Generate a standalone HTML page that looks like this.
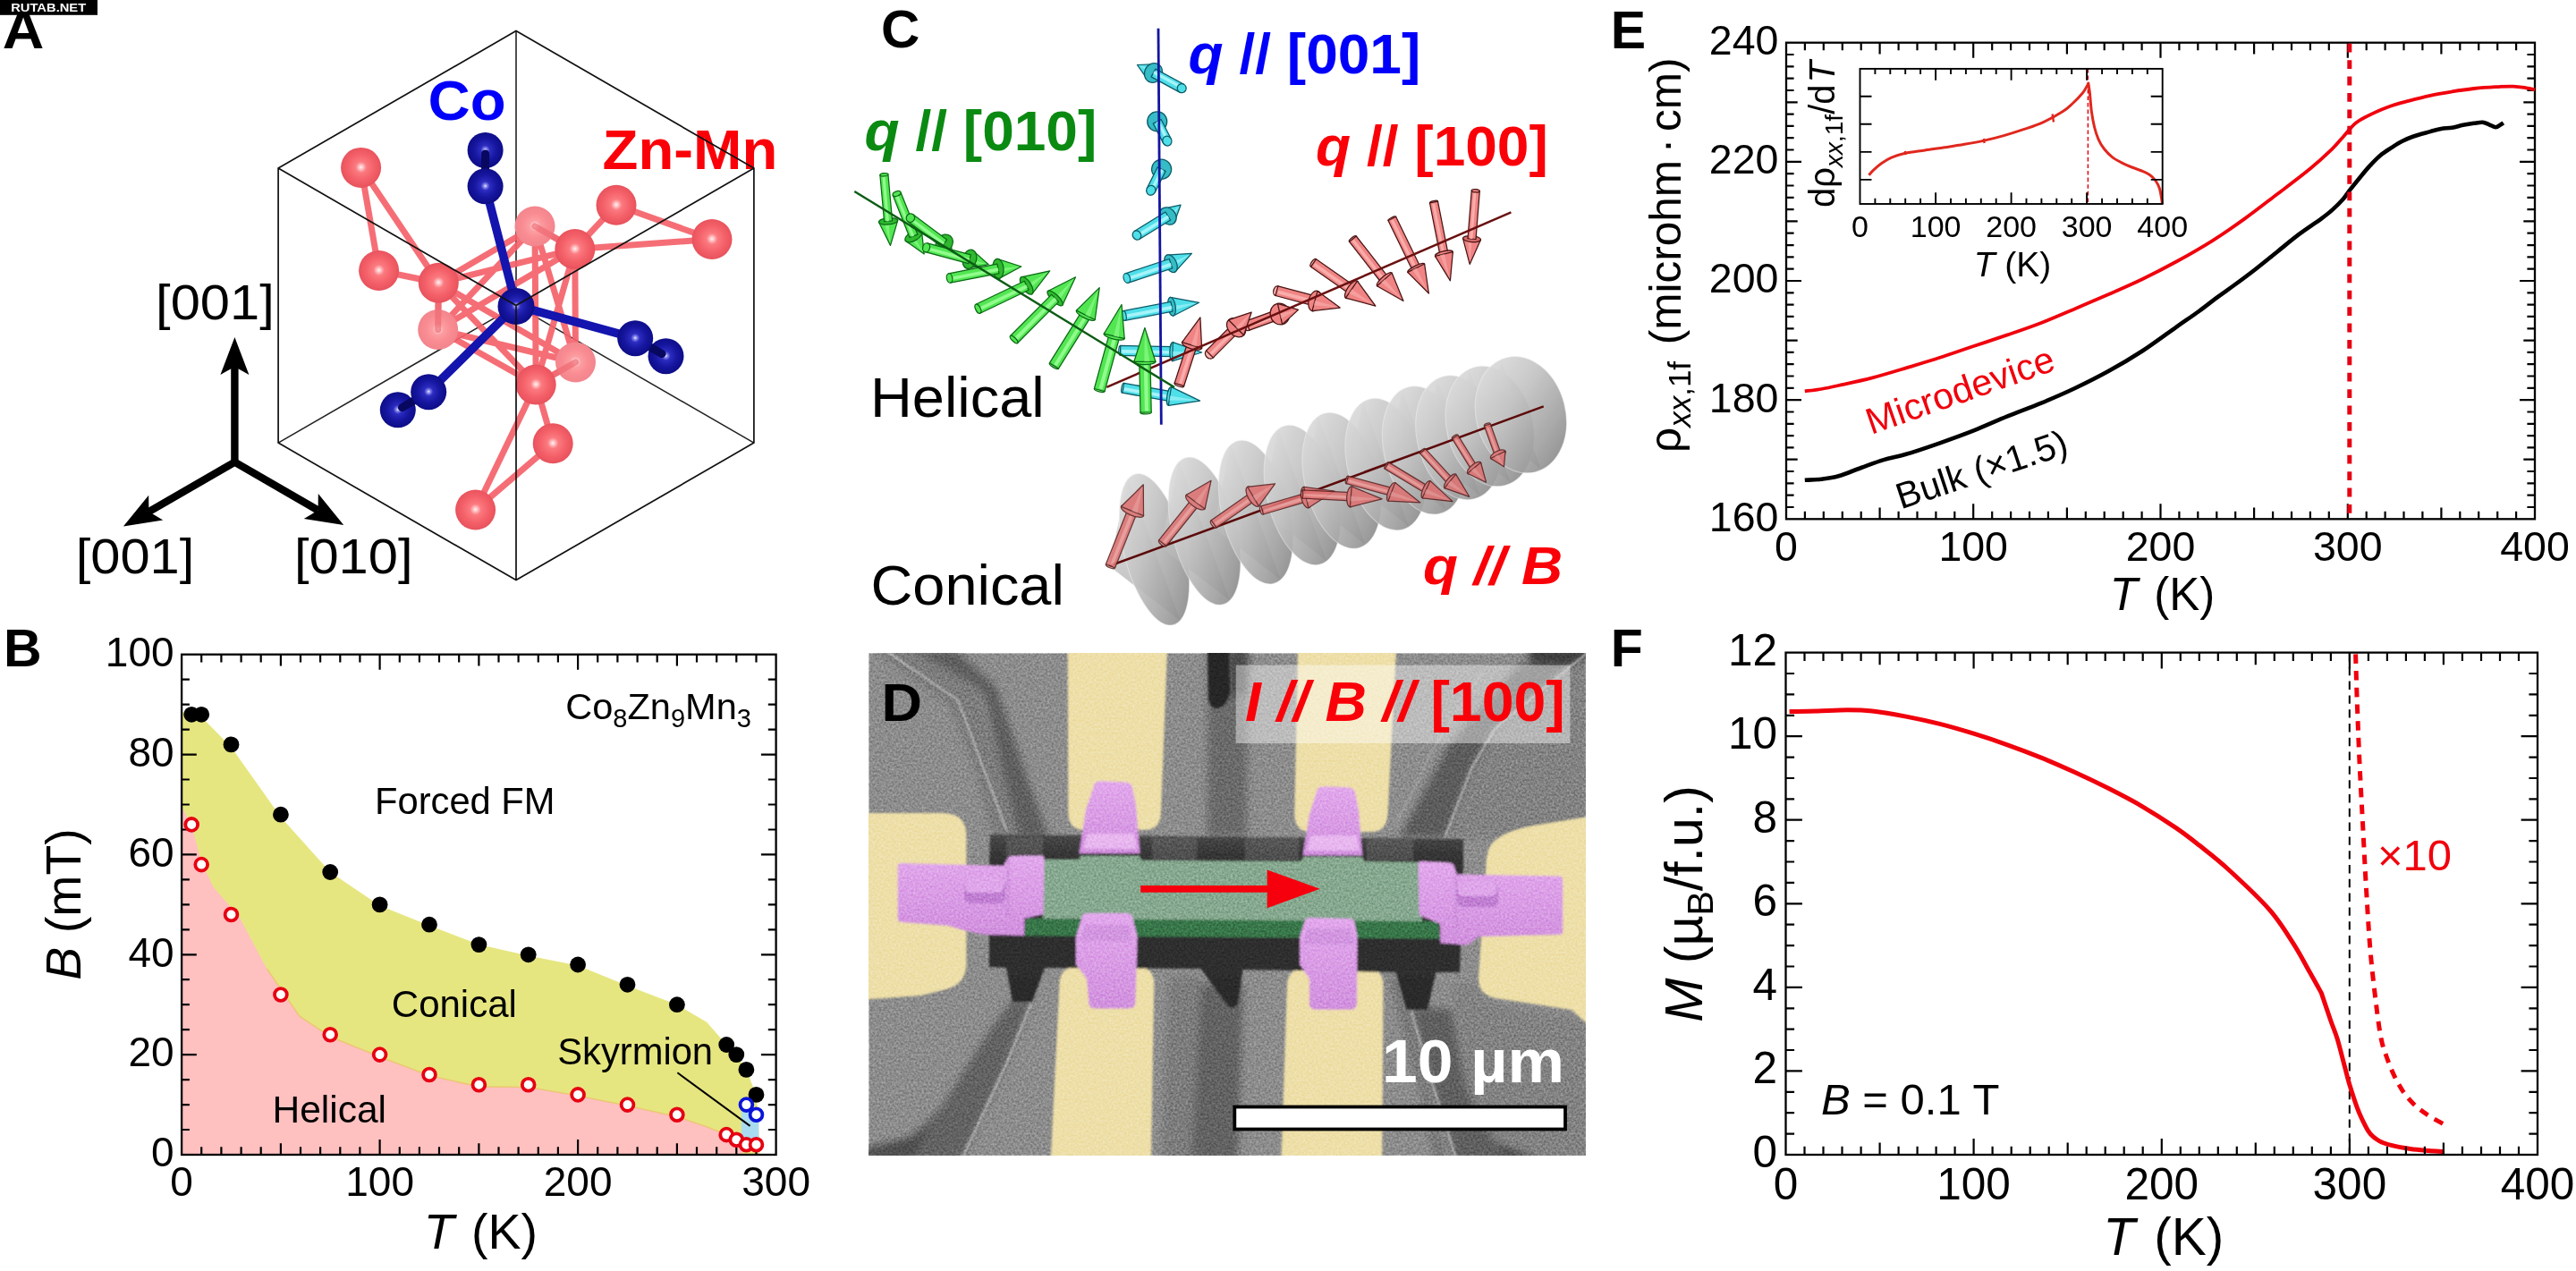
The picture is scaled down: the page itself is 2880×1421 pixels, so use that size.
<!DOCTYPE html>
<html lang="en"><head><meta charset="utf-8"><title>Figure</title>
<style>
html,body{margin:0;padding:0;background:#fff;}
body{width:2880px;height:1421px;overflow:hidden;}
svg{display:block;font-family:"Liberation Sans", sans-serif;will-change:transform;}
</style></head><body>
<svg width="2880" height="1421" viewBox="0 0 2880 1421">
<rect width="2880" height="1421" fill="#fff"/>
<g id="panelA">
<defs>
<radialGradient id="gRed" cx="0.5" cy="0.49" r="0.52">
<stop offset="0" stop-color="#fff4f4"/><stop offset="0.1" stop-color="#ffc4c6"/><stop offset="0.26" stop-color="#fb7a80"/><stop offset="0.6" stop-color="#f5626a"/><stop offset="0.92" stop-color="#ea545e"/><stop offset="1" stop-color="#e2525c"/>
</radialGradient>
<radialGradient id="gRedDim" cx="0.5" cy="0.49" r="0.52">
<stop offset="0" stop-color="#fff6f6"/><stop offset="0.1" stop-color="#ffd2d4"/><stop offset="0.26" stop-color="#fc9ea2"/><stop offset="0.6" stop-color="#f98c92"/><stop offset="1" stop-color="#f2848c"/>
</radialGradient>
<radialGradient id="gBlue" cx="0.5" cy="0.49" r="0.52">
<stop offset="0" stop-color="#f0f0ff"/><stop offset="0.09" stop-color="#8a8af0"/><stop offset="0.24" stop-color="#2c2cc0"/><stop offset="0.6" stop-color="#1616a0"/><stop offset="1" stop-color="#0c0c86"/>
</radialGradient>
</defs>
<path d="M577 341.6L577 34.6M577 341.6L311.1 495.1M577 341.6L842.9 495.1" stroke="#222" stroke-width="1.6" fill="none"/>
<path d="M403.6 187.4L423.6 302.5M403.6 187.4L490.3 316.2M423.6 302.5L490.3 316.2M490.3 316.2L489.7 368.5M598 253L642.8 278.6M642.8 278.6L689 229.3M642.8 278.6L796 267.5M689 229.3L796 267.5M599.2 430L643.5 405M599.2 430L618.2 495.8M599.2 430L531.6 570M618.2 495.8L531.6 570M490.3 316.2L642.8 278.6M490.3 316.2L598 253M490.3 316.2L599.2 430M490.3 316.2L643.5 405M489.7 368.5L599.2 430M489.7 368.5L598 253M489.7 368.5L642.8 278.6M598 253L599.2 430M598 253L643.5 405M642.8 278.6L599.2 430M642.8 278.6L643.5 405M489.7 368.5L643.5 405" stroke="#f4626a" stroke-width="7" fill="none" stroke-linecap="round" opacity="0.92"/>
<circle cx="489.7" cy="368.5" r="22.5" fill="url(#gRedDim)"/>
<circle cx="598" cy="253" r="22.5" fill="url(#gRedDim)"/>
<circle cx="643.5" cy="405" r="22.5" fill="url(#gRedDim)"/>
<path d="M490.3 316.2L489.7 368.5M598 253L642.8 278.6M599.2 430L643.5 405" stroke="#ee6a72" stroke-width="7" fill="none" stroke-linecap="round" opacity="0.7"/>
<circle cx="403.6" cy="187.4" r="22.5" fill="url(#gRed)"/>
<circle cx="423.6" cy="302.5" r="22.5" fill="url(#gRed)"/>
<circle cx="490.3" cy="316.2" r="22.5" fill="url(#gRed)"/>
<circle cx="642.8" cy="278.6" r="22.5" fill="url(#gRed)"/>
<circle cx="689" cy="229.3" r="22.5" fill="url(#gRed)"/>
<circle cx="796" cy="267.5" r="22.5" fill="url(#gRed)"/>
<circle cx="599.2" cy="430" r="22.5" fill="url(#gRed)"/>
<circle cx="618.2" cy="495.8" r="22.5" fill="url(#gRed)"/>
<circle cx="531.6" cy="570" r="22.5" fill="url(#gRed)"/>
<circle cx="542.6" cy="168" r="20" fill="url(#gBlue)"/>
<circle cx="744.5" cy="398.2" r="20" fill="url(#gBlue)"/>
<circle cx="444.8" cy="458.3" r="20" fill="url(#gBlue)"/>
<path d="M542.6 172L542.6 200M740 395.6L716 381.6M449.5 455.6L473 442" stroke="#080860" stroke-width="9" stroke-linecap="round" fill="none"/>
<path d="M577 341.6L542.6 208.3M577 341.6L710.2 378.2M577 341.6L479.2 438.2" stroke="#1414ae" stroke-width="9.5" fill="none"/>
<circle cx="542.6" cy="208.3" r="20" fill="url(#gBlue)"/>
<circle cx="710.2" cy="378.2" r="20" fill="url(#gBlue)"/>
<circle cx="479.2" cy="438.2" r="20" fill="url(#gBlue)"/>
<circle cx="577" cy="342.4" r="20.5" fill="url(#gBlue)"/>
<text transform="translate(478.5 133.5) scale(1.045 1)" font-size="62.5" text-anchor="start" font-weight="bold" font-style="normal" fill="#0000fa" >Co</text>
<text transform="translate(673.5 189) scale(1.045 1)" font-size="62.5" text-anchor="start" font-weight="bold" font-style="normal" fill="#fa0008" >Zn-Mn</text>
<path d="M577 34.6L311.1 188.1L311.1 495.1L577 648.6L842.9 495.1L842.9 188.1ZM577 341.6L311.1 188.1M577 341.6L577 648.6M577 341.6L842.9 188.1" stroke="#111" stroke-width="1.7" fill="none" stroke-linejoin="miter"/>
<path d="M262.4 518.7L262.4 410" stroke="#000" stroke-width="8.4" fill="none"/><path d="M262.4 377L278.4 419L262.4 410L246.4 419Z" fill="#000"/>
<path d="M264.1 515.7L166.4 572.1" stroke="#000" stroke-width="8.4" fill="none"/><path d="M137.9 588.6L166.2 553.7L166.4 572.1L182.2 581.5Z" fill="#000"/>
<path d="M260.7 515.7L355.6 570.5" stroke="#000" stroke-width="8.4" fill="none"/><path d="M384.2 587L339.8 579.9L355.6 570.5L355.8 552.1Z" fill="#000"/>
<text transform="translate(240.4 356.5) scale(1.065 1)" font-size="56" text-anchor="middle" font-weight="normal" font-style="normal" fill="#000" >[001]</text>
<text transform="translate(151 640.5) scale(1.065 1)" font-size="56" text-anchor="middle" font-weight="normal" font-style="normal" fill="#000" >[001]</text>
<text transform="translate(395.2 640.5) scale(1.065 1)" font-size="56" text-anchor="middle" font-weight="normal" font-style="normal" fill="#000" >[010]</text>
<text transform="translate(2.8 54) scale(1.075 1)" font-size="60" text-anchor="start" font-weight="bold" font-style="normal" fill="#000" >A</text>
<rect x="0" y="0" width="109" height="16.8" fill="#000"/>
<text x="12.2" y="13" font-size="13.2" font-weight="bold" fill="#fff" textLength="84" lengthAdjust="spacingAndGlyphs">RUTAB.NET</text>
</g>
<g id="panelB">
<path d="M203.1 796L214.2 797.7L225.2 801.6L258.5 835.2L313.9 913.5L369.2 975L424.6 1012.5L480 1034.8L535.4 1056.1L590.7 1068.4L646.1 1079.6L701.5 1102L756.9 1123.2L790.1 1142.8L812.2 1168L823.3 1179.1L834.4 1195.9L843.2 1218.3L847.7 1240.7L848.8 1279.8L848.8 1291L203.1 1291Z" fill="#e6e680"/>
<path d="M203.1 902.3L214.2 921.9L225.2 963.8L238.5 991.8L267.3 1024.8L298.3 1082.9L334.9 1136.1L369.2 1159L424.6 1181.4L480 1202.6L535.4 1214.9L590.7 1215.5L646.1 1225L701.5 1236.2L756.9 1248.5L790.1 1259.7L812.2 1268.6L829.9 1276.5L829.9 1291L203.1 1291Z" fill="#ffc0c0"/>
<path d="M298.3 1082.9L334.9 1136.1L369.2 1159L424.6 1181.4L480 1202.6L535.4 1214.9L590.7 1215.5L646.1 1225L701.5 1236.2L756.9 1248.5L790.1 1259.7L812.2 1268.6L829.9 1276.5" fill="none" stroke="#eac46a" stroke-width="1.6" opacity="0.8"/>
<rect x="828.8" y="1240.7" width="19.5" height="33.6" rx="3" fill="#a9dcf0"/>
<rect x="203.1" y="731.7" width="664.5" height="559.3" fill="none" stroke="#000" stroke-width="2.3"/>
<path d="M225.2 1291v-8.8M225.2 731.7v8.8M247.4 1291v-8.8M247.4 731.7v8.8M269.6 1291v-8.8M269.6 731.7v8.8M291.7 1291v-8.8M291.7 731.7v8.8M336 1291v-8.8M336 731.7v8.8M358.1 1291v-8.8M358.1 731.7v8.8M380.3 1291v-8.8M380.3 731.7v8.8M402.4 1291v-8.8M402.4 731.7v8.8M446.8 1291v-8.8M446.8 731.7v8.8M468.9 1291v-8.8M468.9 731.7v8.8M491 1291v-8.8M491 731.7v8.8M513.2 1291v-8.8M513.2 731.7v8.8M557.5 1291v-8.8M557.5 731.7v8.8M579.6 1291v-8.8M579.6 731.7v8.8M601.8 1291v-8.8M601.8 731.7v8.8M623.9 1291v-8.8M623.9 731.7v8.8M668.2 1291v-8.8M668.2 731.7v8.8M690.4 1291v-8.8M690.4 731.7v8.8M712.6 1291v-8.8M712.6 731.7v8.8M734.7 1291v-8.8M734.7 731.7v8.8M779 1291v-8.8M779 731.7v8.8M801.2 1291v-8.8M801.2 731.7v8.8M823.3 1291v-8.8M823.3 731.7v8.8M845.5 1291v-8.8M845.5 731.7v8.8" stroke="#000" stroke-width="2.2" fill="none"/>
<path d="M313.9 1291v-12.8M313.9 731.7v12.8M535.4 1291v-12.8M535.4 731.7v12.8M756.9 1291v-12.8M756.9 731.7v12.8" stroke="#000" stroke-width="2.2" fill="none"/>
<path d="M424.6 1291v-17M424.6 731.7v17M646.1 1291v-17M646.1 731.7v17" stroke="#000" stroke-width="2.2" fill="none"/>
<path d="M203.1 1263h8.8M867.6 1263h-8.8M203.1 1235.1h8.8M867.6 1235.1h-8.8M203.1 1207.1h8.8M867.6 1207.1h-8.8M203.1 1151.2h8.8M867.6 1151.2h-8.8M203.1 1123.2h8.8M867.6 1123.2h-8.8M203.1 1095.2h8.8M867.6 1095.2h-8.8M203.1 1039.3h8.8M867.6 1039.3h-8.8M203.1 1011.4h8.8M867.6 1011.4h-8.8M203.1 983.4h8.8M867.6 983.4h-8.8M203.1 927.5h8.8M867.6 927.5h-8.8M203.1 899.5h8.8M867.6 899.5h-8.8M203.1 871.5h8.8M867.6 871.5h-8.8M203.1 815.6h8.8M867.6 815.6h-8.8M203.1 787.6h8.8M867.6 787.6h-8.8M203.1 759.7h8.8M867.6 759.7h-8.8" stroke="#000" stroke-width="2.2" fill="none"/>
<path d="M203.1 1179.1h16.7M867.6 1179.1h-16.7M203.1 1067.3h16.7M867.6 1067.3h-16.7M203.1 955.4h16.7M867.6 955.4h-16.7M203.1 843.6h16.7M867.6 843.6h-16.7" stroke="#000" stroke-width="2.2" fill="none"/>
<path d="M757.4 1199.3L838.6 1258.9" stroke="#000" stroke-width="2"/>
<circle cx="214.2" cy="798.8" r="8.9" fill="#000"/>
<circle cx="225.2" cy="798.8" r="8.9" fill="#000"/>
<circle cx="258.5" cy="832.4" r="8.9" fill="#000"/>
<circle cx="313.9" cy="910.7" r="8.9" fill="#000"/>
<circle cx="369.2" cy="975" r="8.9" fill="#000"/>
<circle cx="424.6" cy="1011.4" r="8.9" fill="#000"/>
<circle cx="480" cy="1033.7" r="8.9" fill="#000"/>
<circle cx="535.4" cy="1056.1" r="8.9" fill="#000"/>
<circle cx="590.7" cy="1067.3" r="8.9" fill="#000"/>
<circle cx="646.1" cy="1078.5" r="8.9" fill="#000"/>
<circle cx="701.5" cy="1100.8" r="8.9" fill="#000"/>
<circle cx="756.9" cy="1123.2" r="8.9" fill="#000"/>
<circle cx="812.2" cy="1168" r="8.9" fill="#000"/>
<circle cx="823.3" cy="1179.1" r="8.9" fill="#000"/>
<circle cx="834.4" cy="1195.9" r="8.9" fill="#000"/>
<circle cx="845.5" cy="1223.9" r="8.9" fill="#000"/>
<circle cx="214.2" cy="921.9" r="6.9" fill="#fff" stroke="#e60012" stroke-width="3.8"/>
<circle cx="225.2" cy="966.6" r="6.9" fill="#fff" stroke="#e60012" stroke-width="3.8"/>
<circle cx="258.5" cy="1022.5" r="6.9" fill="#fff" stroke="#e60012" stroke-width="3.8"/>
<circle cx="313.9" cy="1112" r="6.9" fill="#fff" stroke="#e60012" stroke-width="3.8"/>
<circle cx="369.2" cy="1156.8" r="6.9" fill="#fff" stroke="#e60012" stroke-width="3.8"/>
<circle cx="424.6" cy="1179.1" r="6.9" fill="#fff" stroke="#e60012" stroke-width="3.8"/>
<circle cx="480" cy="1201.5" r="6.9" fill="#fff" stroke="#e60012" stroke-width="3.8"/>
<circle cx="535.4" cy="1212.7" r="6.9" fill="#fff" stroke="#e60012" stroke-width="3.8"/>
<circle cx="590.7" cy="1212.7" r="6.9" fill="#fff" stroke="#e60012" stroke-width="3.8"/>
<circle cx="646.1" cy="1223.9" r="6.9" fill="#fff" stroke="#e60012" stroke-width="3.8"/>
<circle cx="701.5" cy="1235.1" r="6.9" fill="#fff" stroke="#e60012" stroke-width="3.8"/>
<circle cx="756.9" cy="1246.3" r="6.9" fill="#fff" stroke="#e60012" stroke-width="3.8"/>
<circle cx="812.2" cy="1268.6" r="6.9" fill="#fff" stroke="#e60012" stroke-width="3.8"/>
<circle cx="823.3" cy="1274.2" r="6.9" fill="#fff" stroke="#e60012" stroke-width="3.8"/>
<circle cx="834.4" cy="1279.8" r="6.9" fill="#fff" stroke="#e60012" stroke-width="3.8"/>
<circle cx="845.5" cy="1279.8" r="6.9" fill="#fff" stroke="#e60012" stroke-width="3.8"/>
<circle cx="834.4" cy="1235.1" r="6.9" fill="#fff" stroke="#0a14d8" stroke-width="3.8"/>
<circle cx="845.5" cy="1246.3" r="6.9" fill="#fff" stroke="#0a14d8" stroke-width="3.8"/>
<text x="194.6" y="1304.2" font-size="46" text-anchor="end" font-weight="normal" font-style="normal" fill="#000" >0</text>
<text x="194.6" y="1192.3" font-size="46" text-anchor="end" font-weight="normal" font-style="normal" fill="#000" >20</text>
<text x="194.6" y="1080.5" font-size="46" text-anchor="end" font-weight="normal" font-style="normal" fill="#000" >40</text>
<text x="194.6" y="968.6" font-size="46" text-anchor="end" font-weight="normal" font-style="normal" fill="#000" >60</text>
<text x="194.6" y="856.8" font-size="46" text-anchor="end" font-weight="normal" font-style="normal" fill="#000" >80</text>
<text x="194.6" y="744.9" font-size="46" text-anchor="end" font-weight="normal" font-style="normal" fill="#000" >100</text>
<text x="203.1" y="1337" font-size="46" text-anchor="middle" font-weight="normal" font-style="normal" fill="#000" >0</text>
<text x="424.6" y="1337" font-size="46" text-anchor="middle" font-weight="normal" font-style="normal" fill="#000" >100</text>
<text x="646.1" y="1337" font-size="46" text-anchor="middle" font-weight="normal" font-style="normal" fill="#000" >200</text>
<text x="867.6" y="1337" font-size="46" text-anchor="middle" font-weight="normal" font-style="normal" fill="#000" >300</text>
<text x="537.3" y="1395.8" font-size="55.5" text-anchor="middle"><tspan font-style="italic">T</tspan><tspan dx="4"> (K)</tspan></text>
<text transform="translate(90.3 1011) rotate(-90)" font-size="55.5" text-anchor="middle"><tspan font-style="italic">B</tspan> (mT)</text>
<text x="632.3" y="804" font-size="41.5">Co<tspan font-size="29" dy="9">8</tspan><tspan dy="-9">Zn</tspan><tspan font-size="29" dy="9">9</tspan><tspan dy="-9">Mn</tspan><tspan font-size="29" dy="9">3</tspan></text>
<text x="419" y="910.3" font-size="41.7" text-anchor="start" font-weight="normal" font-style="normal" fill="#000" >Forced FM</text>
<text x="437.8" y="1137" font-size="42" text-anchor="start" font-weight="normal" font-style="normal" fill="#000" >Conical</text>
<text x="304.5" y="1255" font-size="42.5" text-anchor="start" font-weight="normal" font-style="normal" fill="#000" >Helical</text>
<text x="623.3" y="1189.6" font-size="41.7" text-anchor="start" font-weight="normal" font-style="normal" fill="#000" >Skyrmion</text>
<text x="4" y="744.5" font-size="59" text-anchor="start" font-weight="bold" font-style="normal" fill="#000" >B</text>
</g>
<g id="panelC">
<defs>
<linearGradient id="gCone" x1="0.15" y1="0" x2="0.85" y2="1">
<stop offset="0" stop-color="#e0e0e0"/><stop offset="0.4" stop-color="#c4c4c4"/><stop offset="0.75" stop-color="#a0a0a0"/><stop offset="1" stop-color="#828282"/>
</linearGradient>
<linearGradient id="gConeBody" x1="0" y1="0" x2="0.2" y2="1">
<stop offset="0" stop-color="#e4e4e4"/><stop offset="1" stop-color="#a2a2a2"/>
</linearGradient>
</defs>
<path d="M1240.1 632.8L1261.1 534.3L1319.9 694.3Z" fill="url(#gConeBody)" opacity="0.75"/>
<ellipse cx="1290.5" cy="614.3" rx="34" ry="87" transform="rotate(-14.1 1290.5 614.3)" fill="url(#gCone)" opacity="0.9" stroke="#f4f4f4" stroke-opacity="0.5" stroke-width="1.2"/>
<path d="M1297.6 611.7L1318 515.8L1375.2 671.6Z" fill="url(#gConeBody)" opacity="0.75"/>
<ellipse cx="1346.6" cy="593.7" rx="35.8" ry="84.7" transform="rotate(-14.1 1346.6 593.7)" fill="url(#gCone)" opacity="0.9" stroke="#f4f4f4" stroke-opacity="0.5" stroke-width="1.2"/>
<path d="M1356.5 590.1L1376.2 496.8L1431.8 648.3Z" fill="url(#gConeBody)" opacity="0.75"/>
<ellipse cx="1404" cy="572.6" rx="37.6" ry="82.3" transform="rotate(-14.1 1404 572.6)" fill="url(#gCone)" opacity="0.9" stroke="#f4f4f4" stroke-opacity="0.5" stroke-width="1.2"/>
<path d="M1410 570.4L1429.1 479.9L1483.1 627Z" fill="url(#gConeBody)" opacity="0.75"/>
<ellipse cx="1456.1" cy="553.5" rx="39.3" ry="80" transform="rotate(-14.1 1456.1 553.5)" fill="url(#gCone)" opacity="0.9" stroke="#f4f4f4" stroke-opacity="0.5" stroke-width="1.2"/>
<path d="M1455.5 553.7L1473.9 465.8L1526.4 608.7Z" fill="url(#gConeBody)" opacity="0.75"/>
<ellipse cx="1500.1" cy="537.3" rx="41.1" ry="77.7" transform="rotate(-14.1 1500.1 537.3)" fill="url(#gCone)" opacity="0.9" stroke="#f4f4f4" stroke-opacity="0.5" stroke-width="1.2"/>
<path d="M1506.3 535L1524.1 449.8L1575 588.4Z" fill="url(#gConeBody)" opacity="0.75"/>
<ellipse cx="1549.5" cy="519.1" rx="42.9" ry="75.3" transform="rotate(-14.1 1549.5 519.1)" fill="url(#gCone)" opacity="0.9" stroke="#f4f4f4" stroke-opacity="0.5" stroke-width="1.2"/>
<path d="M1550.4 518.8L1567.6 436.3L1616.9 570.6Z" fill="url(#gConeBody)" opacity="0.75"/>
<ellipse cx="1592.3" cy="503.4" rx="44.7" ry="73" transform="rotate(-14.1 1592.3 503.4)" fill="url(#gCone)" opacity="0.9" stroke="#f4f4f4" stroke-opacity="0.5" stroke-width="1.2"/>
<path d="M1590.6 504L1607.1 424.2L1654.9 554.2Z" fill="url(#gConeBody)" opacity="0.75"/>
<ellipse cx="1631" cy="489.2" rx="46.4" ry="70.7" transform="rotate(-14.1 1631 489.2)" fill="url(#gCone)" opacity="0.9" stroke="#f4f4f4" stroke-opacity="0.5" stroke-width="1.2"/>
<path d="M1626.7 490.8L1642.6 413.6L1688.8 539.3Z" fill="url(#gConeBody)" opacity="0.75"/>
<ellipse cx="1665.7" cy="476.5" rx="48.2" ry="68.3" transform="rotate(-14.1 1665.7 476.5)" fill="url(#gCone)" opacity="0.9" stroke="#f4f4f4" stroke-opacity="0.5" stroke-width="1.2"/>
<path d="M1662.8 477.5L1678.1 403L1722.7 524.4Z" fill="url(#gConeBody)" opacity="0.75"/>
<ellipse cx="1700.4" cy="463.7" rx="50" ry="66" transform="rotate(-14.1 1700.4 463.7)" fill="url(#gCone)" opacity="0.9" stroke="#f4f4f4" stroke-opacity="0.5" stroke-width="1.2"/>
<path d="M1240.1 632.8L1725.7 454.4" stroke="#5c0a0a" stroke-width="2.6" fill="none"/>
<g opacity="0.88"><ellipse cx="1241.5" cy="632.8" rx="2.1" ry="5.5" transform="rotate(-68.2 1241.5 632.8)" fill="#eca09e" stroke="#5a2020" stroke-width="1.25"/><path d="M1246.6 634.8L1271.1 573.5L1260.9 569.5L1236.4 630.8Z" fill="#de7272" stroke="#5a2020" stroke-width="1.25" stroke-linejoin="round"/><path d="M1242.8 631.7L1266.8 571.8" stroke="#eca09e" stroke-width="3.7" stroke-linecap="butt" fill="none" opacity="0.85"/><ellipse cx="1266" cy="571.5" rx="4.7" ry="13.5" transform="rotate(-67.5 1266 571.5)" fill="#de7272" stroke="#5a2020" stroke-width="1.25"/><path d="M1278.5 576.7L1278.3 541.8L1253.5 566.3Z" fill="#de7272" stroke="#5a2020" stroke-width="1.25" stroke-linejoin="round"/><path d="M1271.6 573.8L1277.5 543.6L1265.4 571.2Z" fill="#eca09e" opacity="0.55"/></g>
<g opacity="0.88"><ellipse cx="1299.8" cy="607.2" rx="2.3" ry="5.2" transform="rotate(-51.3 1299.8 607.2)" fill="#eca09e" stroke="#5a2020" stroke-width="1.25"/><path d="M1303.9 610.5L1340.7 564.5L1332.5 557.9L1295.7 603.9Z" fill="#de7272" stroke="#5a2020" stroke-width="1.25" stroke-linejoin="round"/><path d="M1301.4 606.5L1337.2 561.7" stroke="#eca09e" stroke-width="3.6" stroke-linecap="butt" fill="none" opacity="0.85"/><ellipse cx="1336.6" cy="561.2" rx="5.2" ry="13" transform="rotate(-53.9 1336.6 561.2)" fill="#de7272" stroke="#5a2020" stroke-width="1.25"/><path d="M1347.1 568.9L1354 537.3L1326.1 553.5Z" fill="#de7272" stroke="#5a2020" stroke-width="1.25" stroke-linejoin="round"/><path d="M1341.3 564.6L1352.8 538.9L1336.1 560.8Z" fill="#eca09e" opacity="0.55"/></g>
<g opacity="0.88"><ellipse cx="1357" cy="585.8" rx="2.5" ry="5" transform="rotate(-34.9 1357 585.8)" fill="#eca09e" stroke="#5a2020" stroke-width="1.25"/><path d="M1359.9 589.9L1403.9 559.2L1398.1 551L1354.1 581.7Z" fill="#de7272" stroke="#5a2020" stroke-width="1.25" stroke-linejoin="round"/><path d="M1358.7 585.6L1401.4 555.7" stroke="#eca09e" stroke-width="3.4" stroke-linecap="butt" fill="none" opacity="0.85"/><ellipse cx="1401" cy="555.1" rx="5.6" ry="12.5" transform="rotate(-30.3 1401 555.1)" fill="#de7272" stroke="#5a2020" stroke-width="1.25"/><path d="M1407.3 565.9L1425.5 540.8L1394.7 544.3Z" fill="#de7272" stroke="#5a2020" stroke-width="1.25" stroke-linejoin="round"/><path d="M1403.8 560L1423.8 541.8L1400.7 554.6Z" fill="#eca09e" opacity="0.55"/></g>
<g opacity="0.88"><ellipse cx="1411.2" cy="570.4" rx="2.4" ry="4.8" transform="rotate(-16.2 1411.2 570.4)" fill="#eca09e" stroke="#5a2020" stroke-width="1.25"/><path d="M1412.5 575L1461.6 560.7L1459 551.5L1409.9 565.8Z" fill="#de7272" stroke="#5a2020" stroke-width="1.25" stroke-linejoin="round"/><path d="M1412.8 570.7L1460.5 556.8" stroke="#eca09e" stroke-width="3.3" stroke-linecap="butt" fill="none" opacity="0.85"/><ellipse cx="1460.3" cy="556.1" rx="5.4" ry="12" transform="rotate(-12.6 1460.3 556.1)" fill="#de7272" stroke="#5a2020" stroke-width="1.25"/><path d="M1462.9 567.8L1492 549L1457.7 544.4Z" fill="#de7272" stroke="#5a2020" stroke-width="1.25" stroke-linejoin="round"/><path d="M1461.5 561.4L1490 549.4L1460.2 555.5Z" fill="#eca09e" opacity="0.55"/></g>
<g opacity="0.88"><ellipse cx="1456.5" cy="552.5" rx="2" ry="4.6" transform="rotate(3 1456.5 552.5)" fill="#eca09e" stroke="#5a2020" stroke-width="1.25"/><path d="M1456.3 557.1L1510.1 559.9L1510.5 550.7L1456.7 547.9Z" fill="#de7272" stroke="#5a2020" stroke-width="1.25" stroke-linejoin="round"/><path d="M1458 553.3L1510.3 556" stroke="#eca09e" stroke-width="3.1" stroke-linecap="butt" fill="none" opacity="0.85"/><ellipse cx="1510.3" cy="555.3" rx="4.6" ry="11.5" transform="rotate(4.3 1510.3 555.3)" fill="#de7272" stroke="#5a2020" stroke-width="1.25"/><path d="M1509.4 566.8L1545.1 557.9L1511.2 543.8Z" fill="#de7272" stroke="#5a2020" stroke-width="1.25" stroke-linejoin="round"/><path d="M1509.9 560.5L1543.1 557.8L1510.3 554.7Z" fill="#eca09e" opacity="0.55"/></g>
<g opacity="0.88"><ellipse cx="1506.3" cy="536.5" rx="1.7" ry="4.4" transform="rotate(15.1 1506.3 536.5)" fill="#eca09e" stroke="#5a2020" stroke-width="1.25"/><path d="M1505.2 540.7L1554.7 554.1L1556.9 545.7L1507.4 532.3Z" fill="#de7272" stroke="#5a2020" stroke-width="1.25" stroke-linejoin="round"/><path d="M1507.6 537.5L1555.6 550.5" stroke="#eca09e" stroke-width="3" stroke-linecap="butt" fill="none" opacity="0.85"/><ellipse cx="1555.8" cy="549.9" rx="3.8" ry="11" transform="rotate(20.5 1555.8 549.9)" fill="#de7272" stroke="#5a2020" stroke-width="1.25"/><path d="M1551.9 560.2L1587.9 561.9L1559.7 539.6Z" fill="#de7272" stroke="#5a2020" stroke-width="1.25" stroke-linejoin="round"/><path d="M1554.1 554.5L1586 561.2L1556 549.4Z" fill="#eca09e" opacity="0.55"/></g>
<g opacity="0.88"><ellipse cx="1550.4" cy="520.5" rx="1.6" ry="4.2" transform="rotate(31.1 1550.4 520.5)" fill="#eca09e" stroke="#5a2020" stroke-width="1.25"/><path d="M1548.2 524.1L1592.4 550.8L1596.8 543.6L1552.6 516.9Z" fill="#de7272" stroke="#5a2020" stroke-width="1.25" stroke-linejoin="round"/><path d="M1551.4 521.8L1594.3 547.7" stroke="#eca09e" stroke-width="2.9" stroke-linecap="butt" fill="none" opacity="0.85"/><ellipse cx="1594.6" cy="547.2" rx="3.7" ry="10.5" transform="rotate(24.5 1594.6 547.2)" fill="#de7272" stroke="#5a2020" stroke-width="1.25"/><path d="M1590.2 556.8L1624 560.6L1599 537.6Z" fill="#de7272" stroke="#5a2020" stroke-width="1.25" stroke-linejoin="round"/><path d="M1592.6 551.5L1622.2 559.8L1594.8 546.7Z" fill="#eca09e" opacity="0.55"/></g>
<g opacity="0.88"><ellipse cx="1590.6" cy="504.4" rx="1.5" ry="4" transform="rotate(47.5 1590.6 504.4)" fill="#eca09e" stroke="#5a2020" stroke-width="1.25"/><path d="M1587.7 507.1L1618.4 540.6L1624.2 535.2L1593.5 501.7Z" fill="#de7272" stroke="#5a2020" stroke-width="1.25" stroke-linejoin="round"/><path d="M1591.2 505.9L1620.9 538.3" stroke="#eca09e" stroke-width="2.7" stroke-linecap="butt" fill="none" opacity="0.85"/><ellipse cx="1621.3" cy="537.9" rx="3.5" ry="10" transform="rotate(39.1 1621.3 537.9)" fill="#de7272" stroke="#5a2020" stroke-width="1.25"/><path d="M1615 545.7L1642.7 555.3L1627.6 530.1Z" fill="#de7272" stroke="#5a2020" stroke-width="1.25" stroke-linejoin="round"/><path d="M1618.5 541.4L1641.1 554L1621.6 537.5Z" fill="#eca09e" opacity="0.55"/></g>
<g opacity="0.88"><ellipse cx="1626.7" cy="488.4" rx="1.7" ry="3.8" transform="rotate(58.3 1626.7 488.4)" fill="#eca09e" stroke="#5a2020" stroke-width="1.25"/><path d="M1623.5 490.4L1644.9 525.1L1651.3 521.1L1629.9 486.4Z" fill="#de7272" stroke="#5a2020" stroke-width="1.25" stroke-linejoin="round"/><path d="M1627 490L1647.6 523.4" stroke="#eca09e" stroke-width="2.6" stroke-linecap="butt" fill="none" opacity="0.85"/><ellipse cx="1648.1" cy="523.1" rx="3.8" ry="9.6" transform="rotate(50.2 1648.1 523.1)" fill="#de7272" stroke="#5a2020" stroke-width="1.25"/><path d="M1640.7 529.2L1661.5 539.2L1655.5 517Z" fill="#de7272" stroke="#5a2020" stroke-width="1.25" stroke-linejoin="round"/><path d="M1644.8 525.9L1660.2 537.7L1648.5 522.8Z" fill="#eca09e" opacity="0.55"/></g>
<g opacity="0.88"><ellipse cx="1662.8" cy="475" rx="1.8" ry="3.6" transform="rotate(70.2 1662.8 475)" fill="#eca09e" stroke="#5a2020" stroke-width="1.25"/><path d="M1659.4 476.2L1671.4 509.6L1678.2 507.2L1666.2 473.8Z" fill="#de7272" stroke="#5a2020" stroke-width="1.25" stroke-linejoin="round"/><path d="M1662.8 476.6L1674.3 508.6" stroke="#eca09e" stroke-width="2.4" stroke-linecap="butt" fill="none" opacity="0.85"/><ellipse cx="1674.8" cy="508.4" rx="4.1" ry="9.2" transform="rotate(63.4 1674.8 508.4)" fill="#de7272" stroke="#5a2020" stroke-width="1.25"/><path d="M1666.6 512.5L1681.5 521.8L1683 504.3Z" fill="#de7272" stroke="#5a2020" stroke-width="1.25" stroke-linejoin="round"/><path d="M1671.1 510.3L1680.6 520L1675.2 508.2Z" fill="#eca09e" opacity="0.55"/></g>
<g><ellipse cx="1252.6" cy="391.9" rx="1.8" ry="5.5" transform="rotate(1.3 1252.6 391.9)" fill="#b4f8fb" stroke="#0a5a66" stroke-width="1.25"/><path d="M1252.5 397.4L1310.9 398.7L1311.1 387.7L1252.7 386.4Z" fill="#4fdfe9" stroke="#0a5a66" stroke-width="1.25" stroke-linejoin="round"/><path d="M1254.1 392.8L1311 394" stroke="#b4f8fb" stroke-width="3.7" stroke-linecap="butt" fill="none" opacity="0.85"/><ellipse cx="1311" cy="393.2" rx="3.1" ry="10.5" transform="rotate(1.4 1311 393.2)" fill="#4fdfe9" stroke="#0a5a66" stroke-width="1.25"/><path d="M1310.7 403.7L1343.7 394L1311.3 382.7Z" fill="#4fdfe9" stroke="#0a5a66" stroke-width="1.25" stroke-linejoin="round"/><path d="M1310.9 397.9L1341.7 394L1311 392.7Z" fill="#b4f8fb" opacity="0.55"/></g>
<g><ellipse cx="1255.7" cy="433.8" rx="1.8" ry="5.5" transform="rotate(10 1255.7 433.8)" fill="#b4f8fb" stroke="#0a5a66" stroke-width="1.25"/><path d="M1254.7 439.2L1306.9 448.4L1308.9 437.6L1256.7 428.4Z" fill="#4fdfe9" stroke="#0a5a66" stroke-width="1.25" stroke-linejoin="round"/><path d="M1257 434.9L1307.8 443.8" stroke="#b4f8fb" stroke-width="3.7" stroke-linecap="butt" fill="none" opacity="0.85"/><ellipse cx="1307.9" cy="443" rx="3.1" ry="10.5" transform="rotate(8.6 1307.9 443)" fill="#4fdfe9" stroke="#0a5a66" stroke-width="1.25"/><path d="M1306.3 453.4L1341.6 448.1L1309.5 432.6Z" fill="#4fdfe9" stroke="#0a5a66" stroke-width="1.25" stroke-linejoin="round"/><path d="M1307.2 447.7L1339.6 447.8L1308 442.5Z" fill="#b4f8fb" opacity="0.55"/></g>
<g><path d="M1635.5 266.3L1643.2 295.4L1655.5 267.9Z" fill="#f08484" stroke="#4a1414" stroke-width="1.25" stroke-linejoin="round"/><path d="M1641 266.7L1643.4 293.4L1646 267.1Z" fill="#f9b4b2" opacity="0.55"/><ellipse cx="1645.5" cy="267.1" rx="3.5" ry="10" transform="rotate(94.6 1645.5 267.1)" fill="#d86a6a" stroke="#4a1414" stroke-width="1.25"/><path d="M1645.3 212.9L1641 266.7L1650 267.5L1654.3 213.7Z" fill="#f08484" stroke="#4a1414" stroke-width="1.25" stroke-linejoin="round"/><path d="M1649 214.7L1644.8 267" stroke="#f9b4b2" stroke-width="3.1" stroke-linecap="butt" fill="none" opacity="0.85"/><ellipse cx="1649.8" cy="213.3" rx="1.7" ry="4.5" transform="rotate(94.6 1649.8 213.3)" fill="#f08484" stroke="#4a1414" stroke-width="1.25"/></g>
<g><ellipse cx="1603" cy="226" rx="1.5" ry="4.6" transform="rotate(78.9 1603 226)" fill="#f9b4b2" stroke="#4a1414" stroke-width="1.25"/><path d="M1598.5 226.9L1609.9 284.9L1618.9 283.1L1607.5 225.1Z" fill="#f08484" stroke="#4a1414" stroke-width="1.25" stroke-linejoin="round"/><path d="M1602.6 227.6L1613.7 284.1" stroke="#f9b4b2" stroke-width="3.1" stroke-linecap="butt" fill="none" opacity="0.85"/><ellipse cx="1614.4" cy="284" rx="3.1" ry="10.2" transform="rotate(76.8 1614.4 284)" fill="#f08484" stroke="#4a1414" stroke-width="1.25"/><path d="M1604.5 286.3L1621.4 313.8L1624.3 281.7Z" fill="#f08484" stroke="#4a1414" stroke-width="1.25" stroke-linejoin="round"/><path d="M1609.9 285L1620.9 311.9L1614.9 283.9Z" fill="#f9b4b2" opacity="0.55"/></g>
<g><ellipse cx="1556.3" cy="244.4" rx="1.3" ry="4.8" transform="rotate(64.1 1556.3 244.4)" fill="#f9b4b2" stroke="#4a1414" stroke-width="1.25"/><path d="M1552 246.5L1578.9 301.8L1587.5 297.6L1560.6 242.3Z" fill="#f08484" stroke="#4a1414" stroke-width="1.25" stroke-linejoin="round"/><path d="M1556.3 246.1L1582.6 300" stroke="#f9b4b2" stroke-width="3.3" stroke-linecap="butt" fill="none" opacity="0.85"/><ellipse cx="1583.2" cy="299.7" rx="2.6" ry="10.5" transform="rotate(63.4 1583.2 299.7)" fill="#f08484" stroke="#4a1414" stroke-width="1.25"/><path d="M1573.8 304.4L1597.4 328L1592.6 295Z" fill="#f08484" stroke="#4a1414" stroke-width="1.25" stroke-linejoin="round"/><path d="M1579 301.8L1596.5 326.2L1583.7 299.5Z" fill="#f9b4b2" opacity="0.55"/></g>
<g><ellipse cx="1512.4" cy="267.1" rx="1.7" ry="5" transform="rotate(52 1512.4 267.1)" fill="#f9b4b2" stroke="#4a1414" stroke-width="1.25"/><path d="M1508.5 270.2L1543.9 315.5L1551.7 309.3L1516.3 264Z" fill="#f08484" stroke="#4a1414" stroke-width="1.25" stroke-linejoin="round"/><path d="M1512.7 268.7L1547.2 312.9" stroke="#f9b4b2" stroke-width="3.4" stroke-linecap="butt" fill="none" opacity="0.85"/><ellipse cx="1547.8" cy="312.4" rx="3.3" ry="11" transform="rotate(48.7 1547.8 312.4)" fill="#f08484" stroke="#4a1414" stroke-width="1.25"/><path d="M1539.5 319.7L1569 336.5L1556.1 305.1Z" fill="#f08484" stroke="#4a1414" stroke-width="1.25" stroke-linejoin="round"/><path d="M1544.1 315.7L1567.7 335L1548.2 312Z" fill="#f9b4b2" opacity="0.55"/></g>
<g><ellipse cx="1468.5" cy="294" rx="2.3" ry="5.2" transform="rotate(34.9 1468.5 294)" fill="#f9b4b2" stroke="#4a1414" stroke-width="1.25"/><path d="M1465.5 298.3L1508 328L1514 319.4L1471.5 289.7Z" fill="#f08484" stroke="#4a1414" stroke-width="1.25" stroke-linejoin="round"/><path d="M1469.3 295.5L1510.5 324.3" stroke="#f9b4b2" stroke-width="3.6" stroke-linecap="butt" fill="none" opacity="0.85"/><ellipse cx="1511" cy="323.7" rx="4.6" ry="11.5" transform="rotate(34.4 1511 323.7)" fill="#f08484" stroke="#4a1414" stroke-width="1.25"/><path d="M1504.5 333.2L1537.9 342.1L1517.5 314.2Z" fill="#f08484" stroke="#4a1414" stroke-width="1.25" stroke-linejoin="round"/><path d="M1508.1 328L1536.2 341L1511.3 323.2Z" fill="#f9b4b2" opacity="0.55"/></g>
<g><ellipse cx="1427.4" cy="325.2" rx="3.6" ry="5.5" transform="rotate(14.9 1427.4 325.2)" fill="#f9b4b2" stroke="#4a1414" stroke-width="1.25"/><path d="M1426 330.5L1468.6 341.8L1471.4 331.2L1428.8 319.9Z" fill="#f08484" stroke="#4a1414" stroke-width="1.25" stroke-linejoin="round"/><path d="M1428.6 326.4L1469.8 337.3" stroke="#f9b4b2" stroke-width="3.7" stroke-linecap="butt" fill="none" opacity="0.85"/><ellipse cx="1470" cy="336.5" rx="6.9" ry="11.5" transform="rotate(15.1 1470 336.5)" fill="#f08484" stroke="#4a1414" stroke-width="1.25"/><path d="M1467 347.6L1498.2 344.1L1473 325.4Z" fill="#f08484" stroke="#4a1414" stroke-width="1.25" stroke-linejoin="round"/><path d="M1468.7 341.5L1496.3 343.6L1470.1 335.9Z" fill="#f9b4b2" opacity="0.55"/></g>
<g><ellipse cx="1395" cy="364" rx="5.4" ry="5.5" transform="rotate(-19.9 1395 364)" fill="#f9b4b2" stroke="#4a1414" stroke-width="1.25"/><path d="M1396.9 369.2L1432.9 356.2L1429.1 345.8L1393.1 358.8Z" fill="#f08484" stroke="#4a1414" stroke-width="1.25" stroke-linejoin="round"/><path d="M1396.7 364.3L1431.3 351.8" stroke="#f9b4b2" stroke-width="3.7" stroke-linecap="butt" fill="none" opacity="0.85"/><ellipse cx="1431" cy="351" rx="10.8" ry="12" transform="rotate(-12.6 1431 351)" fill="#f08484" stroke="#4a1414" stroke-width="1.25"/><path d="M1433.6 362.7L1451.5 346.4L1428.4 339.3Z" fill="#f08484" stroke="#4a1414" stroke-width="1.25" stroke-linejoin="round"/><path d="M1432.2 356.3L1449.5 346.8L1430.9 350.4Z" fill="#f9b4b2" opacity="0.55"/></g>
<g><ellipse cx="1352.4" cy="396" rx="4.5" ry="5.5" transform="rotate(-45.1 1352.4 396)" fill="#f9b4b2" stroke="#4a1414" stroke-width="1.25"/><path d="M1356.3 399.9L1386 370.1L1378.2 362.3L1348.5 392.1Z" fill="#f08484" stroke="#4a1414" stroke-width="1.25" stroke-linejoin="round"/><path d="M1354 395.5L1382.7 366.8" stroke="#f9b4b2" stroke-width="3.7" stroke-linecap="butt" fill="none" opacity="0.85"/><ellipse cx="1382.1" cy="366.2" rx="9" ry="12" transform="rotate(-45 1382.1 366.2)" fill="#f08484" stroke="#4a1414" stroke-width="1.25"/><path d="M1390.6 374.7L1399.1 349.2L1373.6 357.7Z" fill="#f08484" stroke="#4a1414" stroke-width="1.25" stroke-linejoin="round"/><path d="M1385.9 370L1397.7 350.6L1381.7 365.8Z" fill="#f9b4b2" opacity="0.55"/></g>
<g><ellipse cx="1318.4" cy="430" rx="2.1" ry="5.5" transform="rotate(-72.1 1318.4 430)" fill="#f9b4b2" stroke="#4a1414" stroke-width="1.25"/><path d="M1323.6 431.7L1337.8 387.7L1327.4 384.3L1313.2 428.3Z" fill="#f08484" stroke="#4a1414" stroke-width="1.25" stroke-linejoin="round"/><path d="M1319.6 428.8L1333.4 386.3" stroke="#f9b4b2" stroke-width="3.7" stroke-linecap="butt" fill="none" opacity="0.85"/><ellipse cx="1332.6" cy="386" rx="4" ry="11.5" transform="rotate(-73.4 1332.6 386)" fill="#f08484" stroke="#4a1414" stroke-width="1.25"/><path d="M1343.6 389.3L1341.9 354.9L1321.6 382.7Z" fill="#f08484" stroke="#4a1414" stroke-width="1.25" stroke-linejoin="round"/><path d="M1337.6 387.5L1341.3 356.8L1332 385.8Z" fill="#f9b4b2" opacity="0.55"/></g>
<path d="M1237.3 432.8L1689.4 237.4" stroke="#6a1010" stroke-width="2.5" fill="none"/>
<g><path d="M1294.4 71.7L1271.4 72.5L1284.6 91.3Z" fill="#4fdfe9" stroke="#0a5a66" stroke-width="1.25" stroke-linejoin="round"/><path d="M1291.7 77.1L1273.2 73.4L1289.3 82Z" fill="#b4f8fb" opacity="0.55"/><ellipse cx="1289.5" cy="81.5" rx="9.9" ry="11" transform="rotate(-153.6 1289.5 81.5)" fill="#35bcc6" stroke="#0a5a66" stroke-width="1.25"/><path d="M1323.6 94.3L1291.9 77.1L1287.1 85.9L1318.8 103.1Z" fill="#4fdfe9" stroke="#0a5a66" stroke-width="1.25" stroke-linejoin="round"/><path d="M1320.2 97.3L1289.9 80.8" stroke="#b4f8fb" stroke-width="3.4" stroke-linecap="butt" fill="none" opacity="0.85"/><ellipse cx="1321.2" cy="98.7" rx="5" ry="5" transform="rotate(-151.5 1321.2 98.7)" fill="#4fdfe9" stroke="#0a5a66" stroke-width="1.25"/></g>
<g><path d="M1303.6 131L1289 126L1283.8 140.6Z" fill="#4fdfe9" stroke="#0a5a66" stroke-width="1.25" stroke-linejoin="round"/><path d="M1298.2 133.7L1289.9 127.8L1293.2 136Z" fill="#b4f8fb" opacity="0.55"/><ellipse cx="1293.7" cy="135.8" rx="11" ry="11" transform="rotate(-115.6 1293.7 135.8)" fill="#35bcc6" stroke="#0a5a66" stroke-width="1.25"/><path d="M1309.3 155.3L1298.1 133.5L1289.3 138.1L1300.5 159.9Z" fill="#4fdfe9" stroke="#0a5a66" stroke-width="1.25" stroke-linejoin="round"/><path d="M1304.9 155.9L1294.4 135.5" stroke="#b4f8fb" stroke-width="3.4" stroke-linecap="butt" fill="none" opacity="0.85"/><ellipse cx="1304.9" cy="157.6" rx="5.5" ry="5" transform="rotate(-117.2 1304.9 157.6)" fill="#4fdfe9" stroke="#0a5a66" stroke-width="1.25"/></g>
<g><path d="M1308.5 193.9L1303 180L1288.7 184.5Z" fill="#4fdfe9" stroke="#0a5a66" stroke-width="1.25" stroke-linejoin="round"/><path d="M1303.1 191.3L1302.1 181.8L1298.1 189Z" fill="#b4f8fb" opacity="0.55"/><ellipse cx="1298.6" cy="189.2" rx="11" ry="11" transform="rotate(-64.4 1298.6 189.2)" fill="#35bcc6" stroke="#0a5a66" stroke-width="1.25"/><path d="M1291.3 215L1303.1 191.4L1294.1 187L1282.3 210.6Z" fill="#4fdfe9" stroke="#0a5a66" stroke-width="1.25" stroke-linejoin="round"/><path d="M1288.1 211.8L1299.3 189.5" stroke="#b4f8fb" stroke-width="3.4" stroke-linecap="butt" fill="none" opacity="0.85"/><ellipse cx="1286.8" cy="212.8" rx="5.5" ry="5" transform="rotate(-63.4 1286.8 212.8)" fill="#4fdfe9" stroke="#0a5a66" stroke-width="1.25"/></g>
<g><path d="M1312.7 249.4L1320 229.2L1298.9 233.6Z" fill="#4fdfe9" stroke="#0a5a66" stroke-width="1.25" stroke-linejoin="round"/><path d="M1308.9 245.1L1318.5 230.5L1305.5 241.1Z" fill="#b4f8fb" opacity="0.55"/><ellipse cx="1305.8" cy="241.5" rx="8.4" ry="10.5" transform="rotate(-40.9 1305.8 241.5)" fill="#35bcc6" stroke="#0a5a66" stroke-width="1.25"/><path d="M1273.8 267.5L1308.6 246L1303 237L1268.2 258.5Z" fill="#4fdfe9" stroke="#0a5a66" stroke-width="1.25" stroke-linejoin="round"/><path d="M1272.7 262.9L1306.2 242.2" stroke="#b4f8fb" stroke-width="3.6" stroke-linecap="butt" fill="none" opacity="0.85"/><ellipse cx="1271" cy="263" rx="4.6" ry="5.2" transform="rotate(-31.7 1271 263)" fill="#4fdfe9" stroke="#0a5a66" stroke-width="1.25"/></g>
<g><path d="M1313.6 304.2L1332.4 283.4L1304.4 285.2Z" fill="#4fdfe9" stroke="#0a5a66" stroke-width="1.25" stroke-linejoin="round"/><path d="M1311.1 299L1330.6 284.3L1308.8 294.2Z" fill="#b4f8fb" opacity="0.55"/><ellipse cx="1309" cy="294.7" rx="6.3" ry="10.5" transform="rotate(-25.8 1309 294.7)" fill="#35bcc6" stroke="#0a5a66" stroke-width="1.25"/><path d="M1261.5 316.2L1310.7 299.9L1307.3 289.5L1258.1 305.8Z" fill="#4fdfe9" stroke="#0a5a66" stroke-width="1.25" stroke-linejoin="round"/><path d="M1261.5 311.3L1309.3 295.5" stroke="#b4f8fb" stroke-width="3.7" stroke-linecap="butt" fill="none" opacity="0.85"/><ellipse cx="1259.8" cy="311" rx="3.6" ry="5.5" transform="rotate(-18.3 1259.8 311)" fill="#4fdfe9" stroke="#0a5a66" stroke-width="1.25"/></g>
<g><path d="M1311.5 353.2L1340.6 338.3L1308.5 332.4Z" fill="#4fdfe9" stroke="#0a5a66" stroke-width="1.25" stroke-linejoin="round"/><path d="M1310.7 347.5L1338.6 338.6L1309.9 342.3Z" fill="#b4f8fb" opacity="0.55"/><ellipse cx="1310" cy="342.8" rx="4.2" ry="10.5" transform="rotate(-8.4 1310 342.8)" fill="#35bcc6" stroke="#0a5a66" stroke-width="1.25"/><path d="M1257.7 358.4L1311 348.2L1309 337.4L1255.7 347.6Z" fill="#4fdfe9" stroke="#0a5a66" stroke-width="1.25" stroke-linejoin="round"/><path d="M1258.3 353.5L1310.2 343.6" stroke="#b4f8fb" stroke-width="3.7" stroke-linecap="butt" fill="none" opacity="0.85"/><ellipse cx="1256.7" cy="353" rx="2.4" ry="5.5" transform="rotate(-10.8 1256.7 353)" fill="#4fdfe9" stroke="#0a5a66" stroke-width="1.25"/></g>
<path d="M1295 31.8L1298.3 474.7" stroke="#1414a0" stroke-width="2.8" fill="none"/>
<g><path d="M982.5 248.2L995.5 274.4L1003.7 246.4Z" fill="#52e652" stroke="#0a6a14" stroke-width="1.25" stroke-linejoin="round"/><path d="M988.3 247.7L995.3 272.4L993.6 247.3Z" fill="#9cff98" opacity="0.55"/><ellipse cx="993.1" cy="247.3" rx="3.7" ry="10.6" transform="rotate(84.9 993.1 247.3)" fill="#2fb82f" stroke="#0a6a14" stroke-width="1.25"/><path d="M983.9 195.7L988.6 247.7L997.6 246.9L992.9 194.9Z" fill="#52e652" stroke="#0a6a14" stroke-width="1.25" stroke-linejoin="round"/><path d="M987.9 196.9L992.4 247.4" stroke="#9cff98" stroke-width="3.1" stroke-linecap="butt" fill="none" opacity="0.85"/><ellipse cx="988.4" cy="195.3" rx="1.7" ry="4.5" transform="rotate(84.8 988.4 195.3)" fill="#52e652" stroke="#0a6a14" stroke-width="1.25"/></g>
<g><path d="M1012.3 269.2L1033.2 283.9L1030.5 258.4Z" fill="#52e652" stroke="#0a6a14" stroke-width="1.25" stroke-linejoin="round"/><path d="M1017.3 266.2L1032.2 282.2L1021.9 263.5Z" fill="#9cff98" opacity="0.55"/><ellipse cx="1021.4" cy="263.8" rx="5.3" ry="10.6" transform="rotate(59.6 1021.4 263.8)" fill="#2fb82f" stroke="#0a6a14" stroke-width="1.25"/><path d="M998.2 218.3L1017 265.5L1025.8 262.1L1007 214.9Z" fill="#52e652" stroke="#0a6a14" stroke-width="1.25" stroke-linejoin="round"/><path d="M1002.5 218.3L1020.7 264.1" stroke="#9cff98" stroke-width="3.2" stroke-linecap="butt" fill="none" opacity="0.85"/><ellipse cx="1002.6" cy="216.6" rx="2.6" ry="4.7" transform="rotate(68.3 1002.6 216.6)" fill="#52e652" stroke="#0a6a14" stroke-width="1.25"/></g>
<g><path d="M1048.9 280.1L1064 279L1062.5 263.9Z" fill="#52e652" stroke="#0a6a14" stroke-width="1.25" stroke-linejoin="round"/><path d="M1052.6 275.6L1062.5 277.7L1056 271.6Z" fill="#9cff98" opacity="0.55"/><ellipse cx="1055.7" cy="272" rx="9" ry="10.6" transform="rotate(40.1 1055.7 272)" fill="#2fb82f" stroke="#0a6a14" stroke-width="1.25"/><path d="M1015 247.6L1052.8 275.9L1058.6 268.1L1020.8 239.8Z" fill="#52e652" stroke="#0a6a14" stroke-width="1.25" stroke-linejoin="round"/><path d="M1018.7 245.2L1055.3 272.6" stroke="#9cff98" stroke-width="3.3" stroke-linecap="butt" fill="none" opacity="0.85"/><ellipse cx="1017.9" cy="243.7" rx="4.6" ry="4.9" transform="rotate(36.8 1017.9 243.7)" fill="#52e652" stroke="#0a6a14" stroke-width="1.25"/></g>
<g><path d="M1081.1 300.2L1105.2 295.7L1086.9 279.4Z" fill="#52e652" stroke="#0a6a14" stroke-width="1.25" stroke-linejoin="round"/><path d="M1082.7 294.5L1103.3 295.2L1084.1 289.3Z" fill="#9cff98" opacity="0.55"/><ellipse cx="1084" cy="289.8" rx="7.6" ry="10.8" transform="rotate(15.6 1084 289.8)" fill="#2fb82f" stroke="#0a6a14" stroke-width="1.25"/><path d="M1034.3 281.7L1082.7 294.7L1085.3 284.9L1036.9 271.9Z" fill="#52e652" stroke="#0a6a14" stroke-width="1.25" stroke-linejoin="round"/><path d="M1036.9 277.9L1083.8 290.5" stroke="#9cff98" stroke-width="3.5" stroke-linecap="butt" fill="none" opacity="0.85"/><ellipse cx="1035.6" cy="276.8" rx="3.9" ry="5.1" transform="rotate(15 1035.6 276.8)" fill="#52e652" stroke="#0a6a14" stroke-width="1.25"/></g>
<g><path d="M1116.9 311.4L1141.8 298L1114.9 289.4Z" fill="#52e652" stroke="#0a6a14" stroke-width="1.25" stroke-linejoin="round"/><path d="M1116.4 305.3L1139.8 298.2L1115.8 299.9Z" fill="#9cff98" opacity="0.55"/><ellipse cx="1115.9" cy="300.4" rx="6.1" ry="11" transform="rotate(-5.3 1115.9 300.4)" fill="#2fb82f" stroke="#0a6a14" stroke-width="1.25"/><path d="M1062.6 316.2L1116.9 305.6L1114.9 295.2L1060.6 305.8Z" fill="#52e652" stroke="#0a6a14" stroke-width="1.25" stroke-linejoin="round"/><path d="M1063.2 311.5L1116.1 301.2" stroke="#9cff98" stroke-width="3.6" stroke-linecap="butt" fill="none" opacity="0.85"/><ellipse cx="1061.6" cy="311" rx="3.2" ry="5.3" transform="rotate(-11 1061.6 311)" fill="#52e652" stroke="#0a6a14" stroke-width="1.25"/></g>
<g><path d="M1153.7 328.8L1173.7 302.8L1141.7 309.8Z" fill="#52e652" stroke="#0a6a14" stroke-width="1.25" stroke-linejoin="round"/><path d="M1150.4 323.6L1172 303.9L1147.4 318.8Z" fill="#9cff98" opacity="0.55"/><ellipse cx="1147.7" cy="319.3" rx="5" ry="11.2" transform="rotate(-32.4 1147.7 319.3)" fill="#2fb82f" stroke="#0a6a14" stroke-width="1.25"/><path d="M1095.8 350.2L1150.1 324.3L1145.3 314.3L1091 340.2Z" fill="#52e652" stroke="#0a6a14" stroke-width="1.25" stroke-linejoin="round"/><path d="M1095.1 345.3L1148.1 320" stroke="#9cff98" stroke-width="3.7" stroke-linecap="butt" fill="none" opacity="0.85"/><ellipse cx="1093.4" cy="345.2" rx="2.7" ry="5.5" transform="rotate(-25.5 1093.4 345.2)" fill="#52e652" stroke="#0a6a14" stroke-width="1.25"/></g>
<g><path d="M1187.8 341.3L1202.5 309.8L1171.4 325.5Z" fill="#52e652" stroke="#0a6a14" stroke-width="1.25" stroke-linejoin="round"/><path d="M1183.3 337L1201.1 311.2L1179.2 333Z" fill="#9cff98" opacity="0.55"/><ellipse cx="1179.6" cy="333.4" rx="4" ry="11.4" transform="rotate(-45.9 1179.6 333.4)" fill="#2fb82f" stroke="#0a6a14" stroke-width="1.25"/><path d="M1137.6 383.5L1183.6 337.4L1175.6 329.4L1129.6 375.5Z" fill="#52e652" stroke="#0a6a14" stroke-width="1.25" stroke-linejoin="round"/><path d="M1135.3 379L1180.2 334" stroke="#9cff98" stroke-width="3.9" stroke-linecap="butt" fill="none" opacity="0.85"/><ellipse cx="1133.6" cy="379.5" rx="2.2" ry="5.7" transform="rotate(-45.1 1133.6 379.5)" fill="#52e652" stroke="#0a6a14" stroke-width="1.25"/></g>
<g><ellipse cx="1178.4" cy="409" rx="1.9" ry="5.9" transform="rotate(-58 1178.4 409)" fill="#9cff98" stroke="#0a6a14" stroke-width="1.25"/><path d="M1183.4 412.1L1218.8 355.4L1208.8 349.2L1173.4 405.9Z" fill="#52e652" stroke="#0a6a14" stroke-width="1.25" stroke-linejoin="round"/><path d="M1179.9 408.2L1214.6 352.8" stroke="#9cff98" stroke-width="4" stroke-linecap="butt" fill="none" opacity="0.85"/><ellipse cx="1213.8" cy="352.3" rx="3.5" ry="11.6" transform="rotate(-63.4 1213.8 352.3)" fill="#52e652" stroke="#0a6a14" stroke-width="1.25"/><path d="M1224.2 357.5L1229.2 321.6L1203.4 347.1Z" fill="#52e652" stroke="#0a6a14" stroke-width="1.25" stroke-linejoin="round"/><path d="M1218.5 354.6L1228.3 323.4L1213.3 352Z" fill="#9cff98" opacity="0.55"/></g>
<g><ellipse cx="1229.2" cy="436.1" rx="1.8" ry="6" transform="rotate(-74.7 1229.2 436.1)" fill="#9cff98" stroke="#0a6a14" stroke-width="1.25"/><path d="M1235 437.7L1251.5 377.5L1239.9 374.3L1223.4 434.5Z" fill="#52e652" stroke="#0a6a14" stroke-width="1.25" stroke-linejoin="round"/><path d="M1230.5 434.9L1246.6 376.1" stroke="#9cff98" stroke-width="4.1" stroke-linecap="butt" fill="none" opacity="0.85"/><ellipse cx="1245.7" cy="375.9" rx="3.3" ry="11.8" transform="rotate(-76.8 1245.7 375.9)" fill="#52e652" stroke="#0a6a14" stroke-width="1.25"/><path d="M1257.2 378.6L1254 340.5L1234.2 373.2Z" fill="#52e652" stroke="#0a6a14" stroke-width="1.25" stroke-linejoin="round"/><path d="M1250.9 377.1L1253.5 342.4L1245.1 375.8Z" fill="#9cff98" opacity="0.55"/></g>
<g><ellipse cx="1281.1" cy="461" rx="1.9" ry="6.2" transform="rotate(-91.2 1281.1 461)" fill="#9cff98" stroke="#0a6a14" stroke-width="1.25"/><path d="M1287.2 460.9L1286 404.2L1273.8 404.4L1275 461.1Z" fill="#52e652" stroke="#0a6a14" stroke-width="1.25" stroke-linejoin="round"/><path d="M1282 459.5L1280.8 404.3" stroke="#9cff98" stroke-width="4.2" stroke-linecap="butt" fill="none" opacity="0.85"/><ellipse cx="1279.9" cy="404.3" rx="3.4" ry="12" transform="rotate(-90 1279.9 404.3)" fill="#52e652" stroke="#0a6a14" stroke-width="1.25"/><path d="M1291.9 404.3L1279.9 366.5L1267.9 404.3Z" fill="#52e652" stroke="#0a6a14" stroke-width="1.25" stroke-linejoin="round"/><path d="M1285.3 404.3L1279.9 368.5L1279.3 404.3Z" fill="#9cff98" opacity="0.55"/></g>
<path d="M955.3 214L1313 433" stroke="#0c5c14" stroke-width="2.5" fill="none"/>
<text x="985" y="52.6" font-size="60" text-anchor="start" font-weight="bold" font-style="normal" fill="#000" >C</text>
<text transform="translate(966.5 168) scale(1.025 1)" font-size="62.5" text-anchor="start" font-weight="bold" font-style="normal" fill="#0b8a12" ><tspan font-style="italic">q</tspan> // [010]</text>
<text transform="translate(1328.5 82) scale(1.025 1)" font-size="62.5" text-anchor="start" font-weight="bold" font-style="normal" fill="#0000fa" ><tspan font-style="italic">q</tspan> // [001]</text>
<text transform="translate(1471 185) scale(1.025 1)" font-size="62.5" text-anchor="start" font-weight="bold" font-style="normal" fill="#fa0008" ><tspan font-style="italic">q</tspan> // [100]</text>
<text transform="translate(1591 653) scale(1.065 1)" font-size="60" text-anchor="start" font-weight="bold" font-style="italic" fill="#fa0008" >q // B</text>
<text transform="translate(973 465.6) scale(1.03 1)" font-size="63" text-anchor="start" font-weight="normal" font-style="normal" fill="#000" >Helical</text>
<text transform="translate(973.5 675.5) scale(1.03 1)" font-size="63" text-anchor="start" font-weight="normal" font-style="normal" fill="#000" >Conical</text>
</g>
<g id="panelD">
<defs>
<clipPath id="clipD"><rect x="971.5" y="730.5" width="801" height="561.3"/></clipPath>
<filter id="blurD" x="-2%" y="-2%" width="104%" height="104%"><feGaussianBlur stdDeviation="1.15"/></filter>
<filter id="blurD2" x="-5%" y="-5%" width="110%" height="110%"><feGaussianBlur stdDeviation="4"/></filter>
<filter id="noiseD" x="0" y="0" width="100%" height="100%" color-interpolation-filters="sRGB">
<feTurbulence type="fractalNoise" baseFrequency="0.42" numOctaves="2" seed="7" result="n"/>
<feColorMatrix in="n" type="matrix" values="1.6 0 0 0 -0.3  1.6 0 0 0 -0.3  1.6 0 0 0 -0.3  0 0 0 0 1"/>
</filter>
<linearGradient id="gPurp" x1="0" y1="0" x2="0" y2="1"><stop offset="0" stop-color="#e2a8ec"/><stop offset="1" stop-color="#d190de"/></linearGradient>
<linearGradient id="gTrench" x1="0" y1="0" x2="0" y2="1"><stop offset="0" stop-color="#4a4a4a"/><stop offset="0.12" stop-color="#343434"/><stop offset="0.5" stop-color="#2e2e2e"/><stop offset="1" stop-color="#2c2c2c"/></linearGradient>
</defs>
<g clip-path="url(#clipD)">
<rect x="971.5" y="730.5" width="801" height="561.3" fill="#8c8c8c"/>
<g filter="url(#blurD2)">
<path d="M1019 726L1068 726L1113.4 767.2L1130 814.4L1148.9 871.1L1172.5 936L1139.4 936L1120.5 861.6L1101.6 781.4L1092.2 767.2Z" fill="#5e5e5e"/>
<path d="M975 726L1019 726L1092 767L1120 862L1139 936L1110 936L1090 860L1062 790Z" fill="#7c7c7c"/>
<path d="M1350 726L1395 726L1394 936L1350 936Z" fill="#6a6a6a"/>
<path d="M1372 726L1396 726L1395 776L1374 780Z" fill="#4c4c4c"/>
<path d="M1776 730L1672 814L1646 857L1616 936L1776 936Z" fill="#828282"/>
<path d="M1697 744L1772 730L1672 814L1646 857L1615.5 936L1564.5 936L1621 831Z" fill="#5c5c5c"/>
<path d="M1706 724L1776 724L1776 734L1757 744L1712 741Z" fill="#3e3e3e"/>
<path d="M1132 1118L1153.6 1118L1125.3 1189L1092.2 1260L1075 1296L966 1296L966 1283L1020 1270L1054 1236L1083 1189L1108 1150Z" fill="#626262"/>
<path d="M966 1286L1010 1276L1040 1258L1020 1296L966 1296Z" fill="#4e4e4e"/>
<path d="M1343 1100L1390 1100L1384 1296L1332 1296Z" fill="#626262"/>
<path d="M1306 1092L1343 1092L1332 1296L1298 1296Z" fill="#7c7c7c"/>
<path d="M1623 1100L1653 1100L1653 1112L1672 1122L1776 1140L1776 1296L1697 1296L1672 1277L1653 1249L1638 1211Z" fill="#828282"/>
<path d="M1578 1126L1623 1128L1638 1211L1653 1249L1672 1277L1697 1296L1627 1296L1621 1273L1602 1215Z" fill="#5e5e5e"/>
<path d="M1552 1092L1566 1092L1596 1215L1618 1296L1604 1296L1586 1215Z" fill="#767676"/>
<path d="M1672 1277L1724 1296L1682 1296Z" fill="#4c4c4c"/>
</g>
<path d="M1350 726L1374 726L1375 774Q1372 790 1360 792Q1352 792 1351 780Z" fill="#262626" filter="url(#blurD)"/>
<path d="M1347 726L1347 936" stroke="#a8a8a8" stroke-width="2.5" fill="none" filter="url(#blurD)" opacity="0.8"/>
<g filter="url(#blurD)" fill="none" stroke="#c4c4c4" stroke-width="2.2" opacity="0.8">
<path d="M988 726L1071 782.6L1125.3 928"/>
<path d="M1774 730L1672 814L1646 857L1615.5 936"/>
<path d="M1657 751L1602 838L1559 926" opacity="0.45"/>
<path d="M1153.6 1120L1125.3 1189L1092.2 1260L1075 1296"/>
<path d="M1577.8 1130L1602.3 1214.8L1621.2 1273.4L1628 1296"/>
</g>
<g filter="url(#blurD)">
<path d="M1193.7 726L1305 726L1298 908Q1297.5 927.7 1280 927.7L1212 927.7Q1194.5 927.7 1194.3 908Z" fill="#eedfa8"/>
<path d="M1451 726L1561 726L1551.5 910Q1550.5 930 1533 930L1465 930Q1447.5 930 1447.3 910Z" fill="#eedfa8"/>
<path d="M966 909L1054 909Q1080.4 909 1080.4 935L1080.4 1078Q1080 1100 1058 1106L1030 1113L966 1117.5Z" fill="#eedfa8"/>
<path d="M1776 913L1714 923Q1676.3 930 1666 946Q1661.5 955 1661.5 968L1653 1094Q1653 1112 1672 1116L1757 1129L1776 1146Z" fill="#eedfa8"/>
<path d="M1184.5 1100Q1185 1081 1204 1081L1271 1081Q1290.3 1081 1290.3 1100L1287 1296L1174.8 1296Z" fill="#eedfa8"/>
<path d="M1439 1102Q1439.5 1083 1458 1083L1528 1083Q1546.5 1083 1546.5 1102L1545.3 1296L1432.5 1296Z" fill="#eedfa8"/>
<path d="M1107 933L1636 938L1636 968L1632 1087L1605.5 1087L1596 1128.7L1572.5 1128.7L1560.7 1087L1389.5 1084L1383.6 1124L1376 1127L1368 1118L1342.4 1083L1168 1082L1154 1120L1132 1120L1125 1082L1106 1081L1106 968Z" fill="url(#gTrench)"/>
<rect x="1125" y="936" width="41" height="26" fill="#6a6a6a" opacity="0.5"/>
<rect x="1288" y="936" width="50" height="26" fill="#6a6a6a" opacity="0.5"/>
<rect x="1392" y="936" width="60" height="26" fill="#6a6a6a" opacity="0.5"/>
<rect x="1528" y="936" width="52" height="26" fill="#6a6a6a" opacity="0.5"/>
<path d="M1166 961L1206 961L1208 957L1274 957L1276 962L1455 963L1457 958L1523 958L1525 963L1588 964L1590 1031L1166 1027Z" fill="#86a88f"/>
<path d="M1147 1027L1608 1030L1610.5 1049.6L1145 1046.2Z" fill="#37764a"/>
<path d="M1224 876Q1226 873 1232 873.2L1258 874.5Q1264.5 875 1266 880L1270 900L1274.5 954L1206.5 954L1214 905Z" fill="url(#gPurp)"/>
<path d="M1473 882Q1475 879 1481 879.2L1507 880.2Q1513.5 880.6 1515 886L1519 906L1523.2 956.5L1456.6 956.5L1464 910Z" fill="url(#gPurp)"/>
<path d="M1216 932L1268 932L1271 949L1211 949Z" fill="#ecbff2" opacity="0.8"/>
<path d="M1466 934L1517 934L1520 951L1461 951Z" fill="#ecbff2" opacity="0.8"/>
<path d="M1003.7 968Q1003.7 965 1008 965L1122 968L1127 959Q1128 957 1132 957L1163 956.5Q1167.7 956.5 1167.7 961L1166.5 1022L1145.5 1027L1145 1046L1100 1045Q1075 1040 1060 1035L1008 1031Q1003.7 1031 1003.7 1027Z" fill="url(#gPurp)"/>
<rect x="1078" y="983" width="46" height="27" rx="7" fill="#c07ed2"/>
<rect x="1079" y="981" width="43" height="17" rx="6" fill="#dfa6ea"/>
<path d="M1127 960L1127 1026" stroke="#c88ad8" stroke-width="3" opacity="0.7"/>
<path d="M1585.5 966Q1585.5 963 1590 963L1620 964.5Q1625 965 1626 969L1628.5 977.5L1743 979.5Q1747.2 979.7 1747.2 984L1747.2 1041Q1747.2 1045 1743 1045L1652.7 1047.2L1641 1056.7L1610.2 1054.3L1610.2 1033L1586.6 1023Z" fill="url(#gPurp)"/>
<rect x="1629" y="988" width="46" height="26" rx="7" fill="#c07ed2"/>
<rect x="1630" y="986" width="43" height="16" rx="6" fill="#dfa6ea"/>
<path d="M1628 978L1628 1046" stroke="#c88ad8" stroke-width="3" opacity="0.7"/>
<path d="M1210 1024Q1211 1021 1216 1021L1259 1021Q1264.5 1021 1266 1025L1271.6 1047L1269.5 1120Q1269.3 1127.5 1262 1127.5L1224 1127.5Q1217.3 1127.5 1217.3 1121L1215 1094.4L1203 1078L1203 1047Z" fill="url(#gPurp)"/>
<path d="M1459 1029Q1460 1026 1465 1026L1508 1027Q1513.4 1027 1514.5 1031L1517.5 1047L1517 1121Q1517 1128.7 1510 1128.7L1471 1128.7Q1463.9 1128.7 1463.9 1122L1463.9 1094.4L1453.2 1078L1453.2 1047Z" fill="url(#gPurp)"/>
<path d="M1213 1034L1262 1034L1266 1052L1208 1052Z" fill="#c88ad8" opacity="0.55"/>
<path d="M1462 1038L1510 1038L1514 1056L1457 1056Z" fill="#c88ad8" opacity="0.55"/>
</g>
<rect x="971.5" y="730.5" width="801" height="561.3" filter="url(#noiseD)" opacity="0.24" style="mix-blend-mode:overlay"/>
</g>
<rect x="1381.7" y="743.6" width="373.7" height="87.4" fill="#fff" opacity="0.42"/>
<text transform="translate(1392 806.2) scale(1.03 1)" font-size="62.5" text-anchor="start" font-weight="bold" font-style="normal" fill="#fa0008" ><tspan font-style="italic">I // B //</tspan> [100]</text>
<text transform="translate(985.5 806.3) scale(1.05 1)" font-size="60" text-anchor="start" font-weight="bold" font-style="normal" fill="#000" >D</text>
<path d="M1275.2 993.8L1421 993.8" stroke="#f5000c" stroke-width="7.8" fill="none"/>
<path d="M1475.7 993.8L1416.7 972.4L1416.7 1015.2Z" fill="#f5000c"/>
<rect x="1380.3" y="1237.5" width="369.7" height="25" fill="#fff" stroke="#000" stroke-width="3.8"/>
<text transform="translate(1545 1210.3) scale(1.05 1)" font-size="68" text-anchor="start" font-weight="bold" font-style="normal" fill="#fff" >10 µm</text>
</g>
<g id="panelE">
<rect x="1997" y="47.7" width="837" height="532.6" fill="none" stroke="#000" stroke-width="2.3"/>
<path d="M2017.9 580.3v-8.6M2017.9 47.7v8.6M2038.8 580.3v-8.6M2038.8 47.7v8.6M2059.8 580.3v-8.6M2059.8 47.7v8.6M2080.7 580.3v-8.6M2080.7 47.7v8.6M2122.6 580.3v-8.6M2122.6 47.7v8.6M2143.5 580.3v-8.6M2143.5 47.7v8.6M2164.4 580.3v-8.6M2164.4 47.7v8.6M2185.3 580.3v-8.6M2185.3 47.7v8.6M2227.2 580.3v-8.6M2227.2 47.7v8.6M2248.1 580.3v-8.6M2248.1 47.7v8.6M2269 580.3v-8.6M2269 47.7v8.6M2289.9 580.3v-8.6M2289.9 47.7v8.6M2331.8 580.3v-8.6M2331.8 47.7v8.6M2352.7 580.3v-8.6M2352.7 47.7v8.6M2373.7 580.3v-8.6M2373.7 47.7v8.6M2394.6 580.3v-8.6M2394.6 47.7v8.6M2436.4 580.3v-8.6M2436.4 47.7v8.6M2457.3 580.3v-8.6M2457.3 47.7v8.6M2478.3 580.3v-8.6M2478.3 47.7v8.6M2499.2 580.3v-8.6M2499.2 47.7v8.6M2541.1 580.3v-8.6M2541.1 47.7v8.6M2562 580.3v-8.6M2562 47.7v8.6M2582.9 580.3v-8.6M2582.9 47.7v8.6M2603.8 580.3v-8.6M2603.8 47.7v8.6M2645.7 580.3v-8.6M2645.7 47.7v8.6M2666.6 580.3v-8.6M2666.6 47.7v8.6M2687.5 580.3v-8.6M2687.5 47.7v8.6M2708.4 580.3v-8.6M2708.4 47.7v8.6M2750.3 580.3v-8.6M2750.3 47.7v8.6M2771.2 580.3v-8.6M2771.2 47.7v8.6M2792.2 580.3v-8.6M2792.2 47.7v8.6M2813.1 580.3v-8.6M2813.1 47.7v8.6" stroke="#000" stroke-width="2.2" fill="none"/>
<path d="M2101.6 580.3v-12.8M2101.6 47.7v12.8M2310.9 580.3v-12.8M2310.9 47.7v12.8M2520.1 580.3v-12.8M2520.1 47.7v12.8M2729.4 580.3v-12.8M2729.4 47.7v12.8" stroke="#000" stroke-width="2.2" fill="none"/>
<path d="M2206.2 580.3v-17M2206.2 47.7v17M2415.5 580.3v-17M2415.5 47.7v17M2624.8 580.3v-17M2624.8 47.7v17" stroke="#000" stroke-width="2.2" fill="none"/>
<path d="M1997 567h8.6M2834 567h-8.6M1997 553.7h8.6M2834 553.7h-8.6M1997 540.4h8.6M2834 540.4h-8.6M1997 527h8.6M2834 527h-8.6M1997 500.4h8.6M2834 500.4h-8.6M1997 487.1h8.6M2834 487.1h-8.6M1997 473.8h8.6M2834 473.8h-8.6M1997 460.5h8.6M2834 460.5h-8.6M1997 433.8h8.6M2834 433.8h-8.6M1997 420.5h8.6M2834 420.5h-8.6M1997 407.2h8.6M2834 407.2h-8.6M1997 393.9h8.6M2834 393.9h-8.6M1997 367.3h8.6M2834 367.3h-8.6M1997 353.9h8.6M2834 353.9h-8.6M1997 340.6h8.6M2834 340.6h-8.6M1997 327.3h8.6M2834 327.3h-8.6M1997 300.7h8.6M2834 300.7h-8.6M1997 287.4h8.6M2834 287.4h-8.6M1997 274.1h8.6M2834 274.1h-8.6M1997 260.7h8.6M2834 260.7h-8.6M1997 234.1h8.6M2834 234.1h-8.6M1997 220.8h8.6M2834 220.8h-8.6M1997 207.5h8.6M2834 207.5h-8.6M1997 194.2h8.6M2834 194.2h-8.6M1997 167.5h8.6M2834 167.5h-8.6M1997 154.2h8.6M2834 154.2h-8.6M1997 140.9h8.6M2834 140.9h-8.6M1997 127.6h8.6M2834 127.6h-8.6M1997 101h8.6M2834 101h-8.6M1997 87.6h8.6M2834 87.6h-8.6M1997 74.3h8.6M2834 74.3h-8.6M1997 61h8.6M2834 61h-8.6" stroke="#000" stroke-width="2.2" fill="none"/>
<path d="M1997 513.7h12.7M2834 513.7h-12.7M1997 380.6h12.7M2834 380.6h-12.7M1997 247.4h12.7M2834 247.4h-12.7M1997 114.3h12.7M2834 114.3h-12.7" stroke="#000" stroke-width="2.2" fill="none"/>
<path d="M1997 447.1h17M2834 447.1h-17M1997 314h17M2834 314h-17M1997 180.9h17M2834 180.9h-17" stroke="#000" stroke-width="2.2" fill="none"/>
<path d="M2017.8 536.8C2020.8 536.6 2029.7 536.5 2036 535.8C2042.3 535 2048.1 534.4 2055.5 532.3C2062.9 530.2 2072.3 526 2080.7 523C2089.1 520 2097.5 516.6 2105.9 514.1C2114.3 511.6 2120.6 510.9 2131.1 507.8C2141.6 504.7 2156.2 499.7 2168.8 495.3C2181.4 490.9 2194 486.4 2206.6 481.4C2219.2 476.4 2231.8 470.5 2244.4 465.4C2257 460.3 2269.5 455.8 2282.1 450.6C2294.7 445.4 2307.3 440 2319.9 434C2332.5 428 2345 421.8 2357.6 414.8C2370.2 407.9 2382.8 400.5 2395.4 392.3C2408 384.1 2422.7 373 2433.2 365.6C2443.7 358.2 2450.6 353.7 2458.4 348C2466.2 342.3 2473.5 336.4 2480 331.6C2486.5 326.8 2490.6 324.1 2497.6 319C2504.6 313.9 2513.9 307 2522 300.7C2530.1 294.4 2538.2 287.7 2546.3 281.2C2554.4 274.7 2562.6 267.8 2570.7 261.7C2578.8 255.6 2589 249.1 2595.1 244.6C2601.2 240.1 2603.2 238.6 2607.3 234.9C2611.4 231.2 2616.2 226.4 2619.5 222.7C2622.8 219 2624 216.6 2626.8 212.9C2629.7 209.2 2632.9 205.2 2636.6 200.7C2640.3 196.2 2644.7 190.6 2648.8 186.1C2652.9 181.6 2656.9 177.3 2661 173.9C2665.1 170.5 2669.1 168.1 2673.2 165.4C2677.3 162.8 2681.3 160.1 2685.4 158C2689.5 155.9 2692.3 154.5 2697.6 152.7C2702.9 150.9 2711.8 148.6 2717.1 147.1C2722.4 145.6 2725.2 144.6 2729.3 143.9C2733.4 143.2 2737.4 143.4 2741.5 142.7C2745.6 142 2749.6 140.6 2753.7 139.8C2757.8 139 2762.2 138.3 2765.9 137.8C2769.6 137.3 2772.8 136.6 2775.6 136.8C2778.4 137.1 2780.5 138.4 2782.9 139.3C2785.3 140.2 2788.2 142.1 2790.2 142.2C2792.2 142.3 2793.7 140.6 2795.1 139.8C2796.5 139 2798.2 137.7 2798.8 137.3" fill="none" stroke="#000" stroke-width="4.6" stroke-linejoin="round"/>
<path d="M2017.8 437.4C2020.8 437 2029.7 436.1 2036 435C2042.3 433.9 2046 433.1 2055.5 431C2065.1 428.9 2080.7 425.7 2093.3 422.4C2105.9 419.1 2118.5 415.2 2131.1 411.4C2143.7 407.6 2156.2 403.9 2168.8 399.8C2181.4 395.7 2194 391.2 2206.6 387C2219.2 382.8 2231.8 378.7 2244.4 374.4C2257 370.1 2269.5 365.9 2282.1 361C2294.7 356.1 2307.3 350.5 2319.9 345.2C2332.5 339.9 2345 334.5 2357.6 329C2370.2 323.5 2382.8 318.1 2395.4 312C2408 305.9 2420.2 299.6 2433.2 292.5C2446.2 285.4 2460.4 277.3 2473.2 269.3C2486 261.3 2497.6 253.2 2509.8 244.4C2522 235.7 2534.1 226.1 2546.3 216.8C2558.5 207.5 2572.7 196.9 2582.9 188.5C2593.1 180.1 2601.2 172.5 2607.3 166.6C2613.4 160.7 2616.2 156.9 2619.5 153.2C2622.8 149.5 2624.4 147.2 2626.8 144.6C2629.2 141.9 2631.2 139.5 2634.1 137.3C2636.9 135.1 2638.2 134 2643.9 131.2C2649.6 128.3 2660.2 123.2 2668.3 120.2C2676.4 117.2 2684.6 115.1 2692.7 112.9C2700.8 110.7 2709 108.5 2717.1 106.8C2725.2 105 2733.4 103.7 2741.5 102.4C2749.6 101.1 2757.8 99.9 2765.9 99C2774 98.1 2782.9 97.5 2790.2 97.1C2797.5 96.7 2804.1 96.4 2809.8 96.6C2815.5 96.8 2820.4 97.7 2824.4 98.3C2828.4 98.9 2832.5 99.9 2834.1 100.2" fill="none" stroke="#f0000c" stroke-width="3.8" stroke-linejoin="round"/>
<path d="M2626.8 48.8V580" stroke="#e60012" stroke-width="5" stroke-dasharray="9.8 8.6" fill="none"/>
<text x="1988.4" y="593.7" font-size="46.5" text-anchor="end" font-weight="normal" font-style="normal" fill="#000" >160</text>
<text x="1988.4" y="460.5" font-size="46.5" text-anchor="end" font-weight="normal" font-style="normal" fill="#000" >180</text>
<text x="1988.4" y="327.4" font-size="46.5" text-anchor="end" font-weight="normal" font-style="normal" fill="#000" >200</text>
<text x="1988.4" y="194.3" font-size="46.5" text-anchor="end" font-weight="normal" font-style="normal" fill="#000" >220</text>
<text x="1988.4" y="61.1" font-size="46.5" text-anchor="end" font-weight="normal" font-style="normal" fill="#000" >240</text>
<text x="1997" y="627.2" font-size="46.5" text-anchor="middle" font-weight="normal" font-style="normal" fill="#000" >0</text>
<text x="2206.2" y="627.2" font-size="46.5" text-anchor="middle" font-weight="normal" font-style="normal" fill="#000" >100</text>
<text x="2415.5" y="627.2" font-size="46.5" text-anchor="middle" font-weight="normal" font-style="normal" fill="#000" >200</text>
<text x="2624.8" y="627.2" font-size="46.5" text-anchor="middle" font-weight="normal" font-style="normal" fill="#000" >300</text>
<text x="2834" y="627.2" font-size="46.5" text-anchor="middle" font-weight="normal" font-style="normal" fill="#000" >400</text>
<text x="2417.5" y="682" font-size="51" text-anchor="middle"><tspan font-style="italic">T</tspan><tspan dx="4"> (K)</tspan></text>
<text transform="translate(1878.5 506) rotate(-90)" font-size="49.5">ρ<tspan font-size="35" dy="11"><tspan font-style="italic">xx</tspan>,1f</tspan><tspan dy="-11" dx="5"> (microhm</tspan><tspan dx="-6"> ·</tspan><tspan dx="-6"> cm)</tspan></text>
<text transform="translate(2092 486) rotate(-19.3)" font-size="41.3" fill="#f0000c">Microdevice</text>
<text transform="translate(2125.2 569.4) rotate(-18.3)" font-size="41">Bulk (×1.5)</text>
<text x="1800.8" y="53.5" font-size="59" text-anchor="start" font-weight="bold" font-style="normal" fill="#000" >E</text>
<rect x="2079.5" y="76.9" width="338.2" height="151.1" fill="#fff"/>
<path d="M2334.4 77V228" stroke="#e60012" stroke-width="1.5" stroke-dasharray="4.6 3" fill="none"/>
<path d="M2089.4 195.8C2090.3 194.8 2092.5 192.1 2094.9 189.9C2097.3 187.7 2100.4 184.9 2103.7 182.6C2107 180.3 2110.3 178.1 2114.7 176.2C2119.1 174.3 2123.9 172.6 2130.2 171.2C2136.4 169.8 2144.9 169 2152.2 167.9C2159.5 166.8 2166.8 165.9 2174.2 164.8C2181.5 163.7 2189 162.6 2196.3 161.3C2203.7 160 2211 158.7 2218.3 157.1C2225.6 155.5 2233 153.7 2240.3 151.6C2247.7 149.5 2255.1 147.2 2262.4 144.7C2269.8 142.2 2277.1 140 2284.4 136.6C2291.7 133.2 2300.9 128 2306.4 124.5C2311.9 121 2313.7 118.9 2317.4 115.5C2321.1 112.1 2325.8 107.1 2328.4 104C2331 100.9 2331.7 98.8 2332.8 97C2333.9 95.2 2334.5 93.7 2334.8 93C2335.1 94.8 2335.8 98.7 2336.4 104C2337 109.3 2337.5 118.5 2338.4 124.9C2339.3 131.3 2340.4 137.3 2341.7 142.5C2343 147.7 2344.3 151.8 2346.1 155.8C2347.9 159.9 2350.1 163.5 2352.7 166.8C2355.3 170.1 2358.2 173 2361.5 175.6C2364.8 178.2 2368.8 180.3 2372.5 182.2C2376.2 184.1 2379.8 185.5 2383.5 187C2387.2 188.5 2391.2 189.6 2394.5 191C2397.8 192.4 2400.8 193.6 2403.4 195.4C2406 197.2 2408.2 199.4 2410 202C2411.8 204.6 2413.3 207.5 2414.4 210.8C2415.5 214.1 2416.1 218.9 2416.6 221.8C2417.1 224.7 2417.3 227 2417.5 228" fill="none" stroke="#e0281e" stroke-width="3" stroke-linejoin="round"/>
<path d="M2294.6 127.5L2296 136.5M2218 155L2218.6 160M2130 168.8L2130.4 173.2" fill="none" stroke="#e0281e" stroke-width="2.4"/>
<rect x="2079.5" y="76.9" width="338.2" height="151.1" fill="none" stroke="#000" stroke-width="1.9"/>
<path d="M2096.4 228v-6.2M2096.4 76.9v6.2M2113.3 228v-6.2M2113.3 76.9v6.2M2130.2 228v-6.2M2130.2 76.9v6.2M2147.1 228v-6.2M2147.1 76.9v6.2M2181 228v-6.2M2181 76.9v6.2M2197.9 228v-6.2M2197.9 76.9v6.2M2214.8 228v-6.2M2214.8 76.9v6.2M2231.7 228v-6.2M2231.7 76.9v6.2M2265.5 228v-6.2M2265.5 76.9v6.2M2282.4 228v-6.2M2282.4 76.9v6.2M2299.3 228v-6.2M2299.3 76.9v6.2M2316.2 228v-6.2M2316.2 76.9v6.2M2350.1 228v-6.2M2350.1 76.9v6.2M2367 228v-6.2M2367 76.9v6.2M2383.9 228v-6.2M2383.9 76.9v6.2M2400.8 228v-6.2M2400.8 76.9v6.2" stroke="#000" stroke-width="1.9" fill="none"/>
<path d="M2164.1 228v-12.8M2164.1 76.9v12.8M2248.6 228v-12.8M2248.6 76.9v12.8M2333.1 228v-12.8M2333.1 76.9v12.8" stroke="#000" stroke-width="1.9" fill="none"/>
<path d="M2079.5 107.7h13M2417.7 107.7h-13M2079.5 138.8h13M2417.7 138.8h-13M2079.5 169.9h13M2417.7 169.9h-13M2079.5 200.9h13M2417.7 200.9h-13" stroke="#000" stroke-width="1.9" fill="none"/>
<text x="2079.5" y="264.8" font-size="34" text-anchor="middle" font-weight="normal" font-style="normal" fill="#000" >0</text>
<text x="2164.1" y="264.8" font-size="34" text-anchor="middle" font-weight="normal" font-style="normal" fill="#000" >100</text>
<text x="2248.6" y="264.8" font-size="34" text-anchor="middle" font-weight="normal" font-style="normal" fill="#000" >200</text>
<text x="2333.1" y="264.8" font-size="34" text-anchor="middle" font-weight="normal" font-style="normal" fill="#000" >300</text>
<text x="2417.7" y="264.8" font-size="34" text-anchor="middle" font-weight="normal" font-style="normal" fill="#000" >400</text>
<text x="2250" y="309" font-size="39" text-anchor="middle"><tspan font-style="italic">T</tspan> (K)</text>
<text transform="translate(2050.8 232) rotate(-90)" font-size="40">dρ<tspan font-size="28" dy="9"><tspan font-style="italic">xx</tspan>,1f</tspan><tspan dy="-9">/d<tspan font-style="italic" dx="2">T</tspan></tspan></text>
</g>
<g id="panelF">
<path d="M2626.8 730V1291" stroke="#000" stroke-width="2" stroke-dasharray="9.4 6.4" fill="none"/>
<path d="M2633.6 731.4C2633.9 740.9 2634.6 767.5 2635.4 788.4C2636.2 809.3 2637.1 834.1 2638.2 856.9C2639.3 879.7 2640.6 902.5 2641.8 925.3C2643 948.1 2644.1 971 2645.5 993.8C2646.9 1016.6 2648.2 1040.9 2650 1062.2C2651.8 1083.5 2654.4 1105 2656.4 1121.5C2658.4 1138 2660.1 1151 2662.1 1161C2664.1 1171 2665.8 1174.7 2668.2 1181.5C2670.6 1188.3 2673.3 1195.4 2676.4 1201.9C2679.5 1208.4 2682.9 1214.8 2686.7 1220.3C2690.4 1225.8 2694.5 1230.4 2698.9 1234.7C2703.3 1239 2707.6 1242.2 2713.2 1245.9C2718.8 1249.7 2729.4 1255.3 2732.7 1257.2" fill="none" stroke="#f0000c" stroke-width="5" stroke-dasharray="10.5 8.2"/>
<path d="M2000.6 795.5C2005.6 795.4 2019.6 795.3 2030.4 795C2041.2 794.7 2055.1 793.8 2065.6 793.8C2076.1 793.8 2082.4 793.8 2093.3 795C2104.2 796.2 2118.5 798.7 2131.1 801.1C2143.7 803.5 2156.2 806.2 2168.8 809.4C2181.4 812.6 2194 816.3 2206.6 820.2C2219.2 824.1 2231.8 828.3 2244.4 832.8C2257 837.3 2269.5 842 2282.1 847.1C2294.7 852.2 2307.3 857.8 2319.9 863.5C2332.5 869.2 2345 875.2 2357.6 881.6C2370.2 888 2382.8 894.4 2395.4 901.8C2408 909.2 2422.7 918.7 2433.2 925.9C2443.7 933.1 2448.7 937.1 2458.4 944.8C2468.1 952.5 2478.2 960 2491.3 972C2504.4 984 2524.7 1002.7 2536.9 1016.6C2549.1 1030.5 2556.7 1043.6 2564.3 1055.4C2571.9 1067.2 2577.3 1078.2 2582.5 1087.3C2587.7 1096.4 2593.2 1106.3 2595.3 1110.1C2597 1115 2602.4 1131.3 2605.3 1139.8C2608.2 1148.3 2610.3 1152.3 2613 1161C2615.7 1169.7 2618.9 1183.2 2621.2 1191.7C2623.5 1200.2 2624.3 1204.4 2626.7 1212.2C2629.1 1220 2632.7 1231.3 2635.5 1238.8C2638.3 1246.3 2641.3 1252.4 2643.7 1257.2C2646.1 1262 2647.1 1264.3 2649.8 1267.4C2652.5 1270.5 2655.9 1273.4 2660 1275.6C2664.1 1277.8 2668.6 1279.2 2674.4 1280.7C2680.2 1282.2 2688 1283.5 2694.8 1284.4C2701.6 1285.4 2709.2 1285.9 2715.3 1286.4C2721.5 1286.9 2729 1287.2 2731.7 1287.4" fill="none" stroke="#f0000c" stroke-width="5" stroke-linejoin="round"/>
<rect x="1996.5" y="729.6" width="840.5" height="561.4" fill="none" stroke="#000" stroke-width="2.3"/>
<path d="M2017.5 1291v-9.3M2017.5 729.6v9.3M2038.5 1291v-9.3M2038.5 729.6v9.3M2059.5 1291v-9.3M2059.5 729.6v9.3M2080.6 1291v-9.3M2080.6 729.6v9.3M2122.6 1291v-9.3M2122.6 729.6v9.3M2143.6 1291v-9.3M2143.6 729.6v9.3M2164.6 1291v-9.3M2164.6 729.6v9.3M2185.6 1291v-9.3M2185.6 729.6v9.3M2227.6 1291v-9.3M2227.6 729.6v9.3M2248.7 1291v-9.3M2248.7 729.6v9.3M2269.7 1291v-9.3M2269.7 729.6v9.3M2290.7 1291v-9.3M2290.7 729.6v9.3M2332.7 1291v-9.3M2332.7 729.6v9.3M2353.7 1291v-9.3M2353.7 729.6v9.3M2374.7 1291v-9.3M2374.7 729.6v9.3M2395.7 1291v-9.3M2395.7 729.6v9.3M2437.8 1291v-9.3M2437.8 729.6v9.3M2458.8 1291v-9.3M2458.8 729.6v9.3M2479.8 1291v-9.3M2479.8 729.6v9.3M2500.8 1291v-9.3M2500.8 729.6v9.3M2542.8 1291v-9.3M2542.8 729.6v9.3M2563.8 1291v-9.3M2563.8 729.6v9.3M2584.8 1291v-9.3M2584.8 729.6v9.3M2605.9 1291v-9.3M2605.9 729.6v9.3M2647.9 1291v-9.3M2647.9 729.6v9.3M2668.9 1291v-9.3M2668.9 729.6v9.3M2689.9 1291v-9.3M2689.9 729.6v9.3M2710.9 1291v-9.3M2710.9 729.6v9.3M2752.9 1291v-9.3M2752.9 729.6v9.3M2774 1291v-9.3M2774 729.6v9.3M2795 1291v-9.3M2795 729.6v9.3M2816 1291v-9.3M2816 729.6v9.3" stroke="#000" stroke-width="2.2" fill="none"/>
<path d="M2101.6 1291v-13.6M2101.6 729.6v13.6M2311.7 1291v-13.6M2311.7 729.6v13.6M2521.8 1291v-13.6M2521.8 729.6v13.6M2731.9 1291v-13.6M2731.9 729.6v13.6" stroke="#000" stroke-width="2.2" fill="none"/>
<path d="M2206.6 1291v-18M2206.6 729.6v18M2416.8 1291v-18M2416.8 729.6v18M2626.9 1291v-18M2626.9 729.6v18" stroke="#000" stroke-width="2.2" fill="none"/>
<path d="M1996.5 1267.6h9.6M2837 1267.6h-9.6M1996.5 1244.2h9.6M2837 1244.2h-9.6M1996.5 1220.8h9.6M2837 1220.8h-9.6M1996.5 1174h9.6M2837 1174h-9.6M1996.5 1150.7h9.6M2837 1150.7h-9.6M1996.5 1127.3h9.6M2837 1127.3h-9.6M1996.5 1080.5h9.6M2837 1080.5h-9.6M1996.5 1057.1h9.6M2837 1057.1h-9.6M1996.5 1033.7h9.6M2837 1033.7h-9.6M1996.5 986.9h9.6M2837 986.9h-9.6M1996.5 963.5h9.6M2837 963.5h-9.6M1996.5 940.1h9.6M2837 940.1h-9.6M1996.5 893.3h9.6M2837 893.3h-9.6M1996.5 870h9.6M2837 870h-9.6M1996.5 846.6h9.6M2837 846.6h-9.6M1996.5 799.8h9.6M2837 799.8h-9.6M1996.5 776.4h9.6M2837 776.4h-9.6M1996.5 753h9.6M2837 753h-9.6" stroke="#000" stroke-width="2.2" fill="none"/>
<path d="M1996.5 1197.4h18.4M2837 1197.4h-18.4M1996.5 1103.9h18.4M2837 1103.9h-18.4M1996.5 1010.3h18.4M2837 1010.3h-18.4M1996.5 916.7h18.4M2837 916.7h-18.4M1996.5 823.2h18.4M2837 823.2h-18.4" stroke="#000" stroke-width="2.2" fill="none"/>
<text x="1987" y="1305" font-size="49.5" text-anchor="end" font-weight="normal" font-style="normal" fill="#000" >0</text>
<text x="1987" y="1211.4" font-size="49.5" text-anchor="end" font-weight="normal" font-style="normal" fill="#000" >2</text>
<text x="1987" y="1117.9" font-size="49.5" text-anchor="end" font-weight="normal" font-style="normal" fill="#000" >4</text>
<text x="1987" y="1024.3" font-size="49.5" text-anchor="end" font-weight="normal" font-style="normal" fill="#000" >6</text>
<text x="1987" y="930.7" font-size="49.5" text-anchor="end" font-weight="normal" font-style="normal" fill="#000" >8</text>
<text x="1987" y="837.2" font-size="49.5" text-anchor="end" font-weight="normal" font-style="normal" fill="#000" >10</text>
<text x="1987" y="743.6" font-size="49.5" text-anchor="end" font-weight="normal" font-style="normal" fill="#000" >12</text>
<text x="1996.5" y="1341" font-size="49.5" text-anchor="middle" font-weight="normal" font-style="normal" fill="#000" >0</text>
<text x="2206.6" y="1341" font-size="49.5" text-anchor="middle" font-weight="normal" font-style="normal" fill="#000" >100</text>
<text x="2416.8" y="1341" font-size="49.5" text-anchor="middle" font-weight="normal" font-style="normal" fill="#000" >200</text>
<text x="2626.9" y="1341" font-size="49.5" text-anchor="middle" font-weight="normal" font-style="normal" fill="#000" >300</text>
<text x="2837" y="1341" font-size="49.5" text-anchor="middle" font-weight="normal" font-style="normal" fill="#000" >400</text>
<text x="2418.8" y="1403.1" font-size="58.5" text-anchor="middle"><tspan font-style="italic">T</tspan><tspan dx="5"> (K)</tspan></text>
<text transform="translate(1903.2 1010.5) rotate(-90)" font-size="59" text-anchor="middle"><tspan font-style="italic">M</tspan> (µ<tspan font-size="41" dy="12">B</tspan><tspan dy="-12">/f.u.)</tspan></text>
<text x="2036" y="1246.3" font-size="49"><tspan font-style="italic">B</tspan> = 0.1 T</text>
<text x="2658" y="973.2" font-size="49" text-anchor="start" font-weight="normal" font-style="normal" fill="#f0000c" >×10</text>
<text x="1800.8" y="745" font-size="59" text-anchor="start" font-weight="bold" font-style="normal" fill="#000" >F</text>
</g>
</svg>
</body></html>
